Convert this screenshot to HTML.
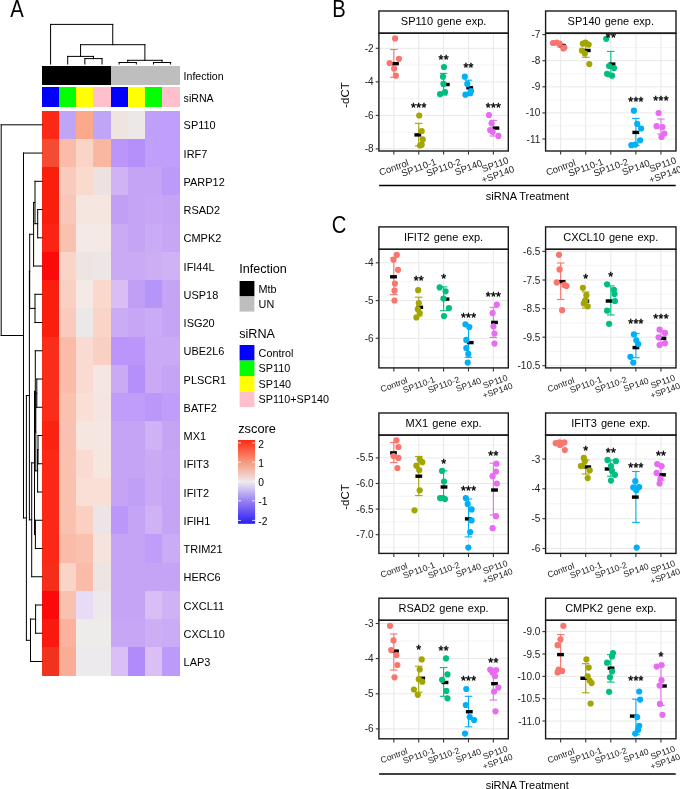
<!DOCTYPE html><html><head><meta charset="utf-8"><style>html,body{margin:0;padding:0;background:#fff;overflow:hidden;width:680px;height:789px;}svg{display:block;will-change:transform;}text{font-family:"Liberation Sans", sans-serif;}</style></head><body>
<svg width="680" height="789" viewBox="0 0 680 789">
<rect x="0" y="0" width="680" height="789" fill="#fff"/>
<text transform="translate(10.2,16.6) scale(0.86,1)" font-size="23.5" fill="#000">A</text>
<text transform="translate(332.2,16.6) scale(0.86,1)" font-size="23.5" fill="#000">B</text>
<text transform="translate(331.7,233.0) scale(0.86,1)" font-size="23.5" fill="#000">C</text>
<g shape-rendering="crispEdges">
<rect x="42.00" y="110.70" width="17.45" height="28.54" fill="#fa2814"/>
<rect x="59.15" y="110.70" width="17.45" height="28.54" fill="#c0a4f5"/>
<rect x="76.30" y="110.70" width="17.45" height="28.54" fill="#fca88b"/>
<rect x="93.45" y="110.70" width="17.45" height="28.54" fill="#c0a4f5"/>
<rect x="110.60" y="110.70" width="17.45" height="28.54" fill="#f0e4e1"/>
<rect x="127.75" y="110.70" width="17.45" height="28.54" fill="#ece8e8"/>
<rect x="144.90" y="110.70" width="17.45" height="28.54" fill="#c09ffa"/>
<rect x="162.05" y="110.70" width="17.45" height="28.54" fill="#c09ffa"/>
<rect x="42.00" y="138.94" width="17.45" height="28.54" fill="#f54b32"/>
<rect x="59.15" y="138.94" width="17.45" height="28.54" fill="#fabca9"/>
<rect x="76.30" y="138.94" width="17.45" height="28.54" fill="#fad5c7"/>
<rect x="93.45" y="138.94" width="17.45" height="28.54" fill="#fab79f"/>
<rect x="110.60" y="138.94" width="17.45" height="28.54" fill="#bb95fa"/>
<rect x="127.75" y="138.94" width="17.45" height="28.54" fill="#b690fa"/>
<rect x="144.90" y="138.94" width="17.45" height="28.54" fill="#c09ffa"/>
<rect x="162.05" y="138.94" width="17.45" height="28.54" fill="#c09ffa"/>
<rect x="42.00" y="167.19" width="17.45" height="28.54" fill="#fa1e0f"/>
<rect x="59.15" y="167.19" width="17.45" height="28.54" fill="#facbbd"/>
<rect x="76.30" y="167.19" width="17.45" height="28.54" fill="#fadacc"/>
<rect x="93.45" y="167.19" width="17.45" height="28.54" fill="#eee1e1"/>
<rect x="110.60" y="167.19" width="17.45" height="28.54" fill="#cfb3f5"/>
<rect x="127.75" y="167.19" width="17.45" height="28.54" fill="#c5a4f5"/>
<rect x="144.90" y="167.19" width="17.45" height="28.54" fill="#c5a4f5"/>
<rect x="162.05" y="167.19" width="17.45" height="28.54" fill="#bb9afa"/>
<rect x="42.00" y="195.44" width="17.45" height="28.54" fill="#fa1e0f"/>
<rect x="59.15" y="195.44" width="17.45" height="28.54" fill="#fac6b8"/>
<rect x="76.30" y="195.44" width="17.45" height="28.54" fill="#f5e6e0"/>
<rect x="93.45" y="195.44" width="17.45" height="28.54" fill="#f5e6e0"/>
<rect x="110.60" y="195.44" width="17.45" height="28.54" fill="#c09ff5"/>
<rect x="127.75" y="195.44" width="17.45" height="28.54" fill="#c5a4f5"/>
<rect x="144.90" y="195.44" width="17.45" height="28.54" fill="#c7a7f5"/>
<rect x="162.05" y="195.44" width="17.45" height="28.54" fill="#c5a4f5"/>
<rect x="42.00" y="223.68" width="17.45" height="28.54" fill="#fa2314"/>
<rect x="59.15" y="223.68" width="17.45" height="28.54" fill="#fac1ae"/>
<rect x="76.30" y="223.68" width="17.45" height="28.54" fill="#f3e9e7"/>
<rect x="93.45" y="223.68" width="17.45" height="28.54" fill="#f5e9e5"/>
<rect x="110.60" y="223.68" width="17.45" height="28.54" fill="#caa9f5"/>
<rect x="127.75" y="223.68" width="17.45" height="28.54" fill="#c5a4f5"/>
<rect x="144.90" y="223.68" width="17.45" height="28.54" fill="#caabf5"/>
<rect x="162.05" y="223.68" width="17.45" height="28.54" fill="#c7a7f5"/>
<rect x="42.00" y="251.93" width="17.45" height="28.54" fill="#fa0a0a"/>
<rect x="59.15" y="251.93" width="17.45" height="28.54" fill="#fad5c7"/>
<rect x="76.30" y="251.93" width="17.45" height="28.54" fill="#eee4e1"/>
<rect x="93.45" y="251.93" width="17.45" height="28.54" fill="#ece6e6"/>
<rect x="110.60" y="251.93" width="17.45" height="28.54" fill="#caa9f5"/>
<rect x="127.75" y="251.93" width="17.45" height="28.54" fill="#caa9f5"/>
<rect x="144.90" y="251.93" width="17.45" height="28.54" fill="#cdaef5"/>
<rect x="162.05" y="251.93" width="17.45" height="28.54" fill="#cfb1f5"/>
<rect x="42.00" y="280.17" width="17.45" height="28.54" fill="#fa1e0f"/>
<rect x="59.15" y="280.17" width="17.45" height="28.54" fill="#fad0c2"/>
<rect x="76.30" y="280.17" width="17.45" height="28.54" fill="#f5e9e5"/>
<rect x="93.45" y="280.17" width="17.45" height="28.54" fill="#fad8cc"/>
<rect x="110.60" y="280.17" width="17.45" height="28.54" fill="#d9bdf5"/>
<rect x="127.75" y="280.17" width="17.45" height="28.54" fill="#c09ff5"/>
<rect x="144.90" y="280.17" width="17.45" height="28.54" fill="#b695fa"/>
<rect x="162.05" y="280.17" width="17.45" height="28.54" fill="#c5a4f5"/>
<rect x="42.00" y="308.41" width="17.45" height="28.54" fill="#fa1e0f"/>
<rect x="59.15" y="308.41" width="17.45" height="28.54" fill="#facbbd"/>
<rect x="76.30" y="308.41" width="17.45" height="28.54" fill="#ebe8e8"/>
<rect x="93.45" y="308.41" width="17.45" height="28.54" fill="#fad5c7"/>
<rect x="110.60" y="308.41" width="17.45" height="28.54" fill="#caabf5"/>
<rect x="127.75" y="308.41" width="17.45" height="28.54" fill="#c7a7f5"/>
<rect x="144.90" y="308.41" width="17.45" height="28.54" fill="#caabf5"/>
<rect x="162.05" y="308.41" width="17.45" height="28.54" fill="#c5a4f5"/>
<rect x="42.00" y="336.66" width="17.45" height="28.54" fill="#fa2d19"/>
<rect x="59.15" y="336.66" width="17.45" height="28.54" fill="#fabca9"/>
<rect x="76.30" y="336.66" width="17.45" height="28.54" fill="#fadad1"/>
<rect x="93.45" y="336.66" width="17.45" height="28.54" fill="#fad0c2"/>
<rect x="110.60" y="336.66" width="17.45" height="28.54" fill="#bb95fa"/>
<rect x="127.75" y="336.66" width="17.45" height="28.54" fill="#bb95fa"/>
<rect x="144.90" y="336.66" width="17.45" height="28.54" fill="#caa9f5"/>
<rect x="162.05" y="336.66" width="17.45" height="28.54" fill="#caa9f5"/>
<rect x="42.00" y="364.90" width="17.45" height="28.54" fill="#fa2d19"/>
<rect x="59.15" y="364.90" width="17.45" height="28.54" fill="#fabca9"/>
<rect x="76.30" y="364.90" width="17.45" height="28.54" fill="#fadad1"/>
<rect x="93.45" y="364.90" width="17.45" height="28.54" fill="#f5e6e3"/>
<rect x="110.60" y="364.90" width="17.45" height="28.54" fill="#caa9f5"/>
<rect x="127.75" y="364.90" width="17.45" height="28.54" fill="#b690fa"/>
<rect x="144.90" y="364.90" width="17.45" height="28.54" fill="#caa9f5"/>
<rect x="162.05" y="364.90" width="17.45" height="28.54" fill="#c5a4f5"/>
<rect x="42.00" y="393.15" width="17.45" height="28.54" fill="#fa2d19"/>
<rect x="59.15" y="393.15" width="17.45" height="28.54" fill="#fac1ae"/>
<rect x="76.30" y="393.15" width="17.45" height="28.54" fill="#fadfd6"/>
<rect x="93.45" y="393.15" width="17.45" height="28.54" fill="#f5e4e0"/>
<rect x="110.60" y="393.15" width="17.45" height="28.54" fill="#c09df8"/>
<rect x="127.75" y="393.15" width="17.45" height="28.54" fill="#c09df8"/>
<rect x="144.90" y="393.15" width="17.45" height="28.54" fill="#bb97fa"/>
<rect x="162.05" y="393.15" width="17.45" height="28.54" fill="#c09df8"/>
<rect x="42.00" y="421.39" width="17.45" height="28.54" fill="#fa230f"/>
<rect x="59.15" y="421.39" width="17.45" height="28.54" fill="#fac1b3"/>
<rect x="76.30" y="421.39" width="17.45" height="28.54" fill="#f5e6e0"/>
<rect x="93.45" y="421.39" width="17.45" height="28.54" fill="#f5e6e3"/>
<rect x="110.60" y="421.39" width="17.45" height="28.54" fill="#c5a4f5"/>
<rect x="127.75" y="421.39" width="17.45" height="28.54" fill="#c5a4f5"/>
<rect x="144.90" y="421.39" width="17.45" height="28.54" fill="#cfb1f5"/>
<rect x="162.05" y="421.39" width="17.45" height="28.54" fill="#c5a4f5"/>
<rect x="42.00" y="449.64" width="17.45" height="28.54" fill="#fa2814"/>
<rect x="59.15" y="449.64" width="17.45" height="28.54" fill="#fac1ae"/>
<rect x="76.30" y="449.64" width="17.45" height="28.54" fill="#fadad1"/>
<rect x="93.45" y="449.64" width="17.45" height="28.54" fill="#f5e6e0"/>
<rect x="110.60" y="449.64" width="17.45" height="28.54" fill="#c5a4f5"/>
<rect x="127.75" y="449.64" width="17.45" height="28.54" fill="#c5a4f5"/>
<rect x="144.90" y="449.64" width="17.45" height="28.54" fill="#caa9f5"/>
<rect x="162.05" y="449.64" width="17.45" height="28.54" fill="#c7a7f5"/>
<rect x="42.00" y="477.88" width="17.45" height="28.54" fill="#fa2814"/>
<rect x="59.15" y="477.88" width="17.45" height="28.54" fill="#fac1ae"/>
<rect x="76.30" y="477.88" width="17.45" height="28.54" fill="#fadfd6"/>
<rect x="93.45" y="477.88" width="17.45" height="28.54" fill="#fadfd6"/>
<rect x="110.60" y="477.88" width="17.45" height="28.54" fill="#c5a4f5"/>
<rect x="127.75" y="477.88" width="17.45" height="28.54" fill="#c09ff7"/>
<rect x="144.90" y="477.88" width="17.45" height="28.54" fill="#caa9f5"/>
<rect x="162.05" y="477.88" width="17.45" height="28.54" fill="#c5a4f5"/>
<rect x="42.00" y="506.13" width="17.45" height="28.54" fill="#fa2814"/>
<rect x="59.15" y="506.13" width="17.45" height="28.54" fill="#fac1ae"/>
<rect x="76.30" y="506.13" width="17.45" height="28.54" fill="#fad0c2"/>
<rect x="93.45" y="506.13" width="17.45" height="28.54" fill="#ece4e6"/>
<rect x="110.60" y="506.13" width="17.45" height="28.54" fill="#bb97fa"/>
<rect x="127.75" y="506.13" width="17.45" height="28.54" fill="#c5a4f5"/>
<rect x="144.90" y="506.13" width="17.45" height="28.54" fill="#cfb1f5"/>
<rect x="162.05" y="506.13" width="17.45" height="28.54" fill="#c5a4f5"/>
<rect x="42.00" y="534.38" width="17.45" height="28.54" fill="#fa2814"/>
<rect x="59.15" y="534.38" width="17.45" height="28.54" fill="#fabca9"/>
<rect x="76.30" y="534.38" width="17.45" height="28.54" fill="#fac1ae"/>
<rect x="93.45" y="534.38" width="17.45" height="28.54" fill="#f5e4dd"/>
<rect x="110.60" y="534.38" width="17.45" height="28.54" fill="#c5a4f5"/>
<rect x="127.75" y="534.38" width="17.45" height="28.54" fill="#c5a4f5"/>
<rect x="144.90" y="534.38" width="17.45" height="28.54" fill="#c09df8"/>
<rect x="162.05" y="534.38" width="17.45" height="28.54" fill="#caabf5"/>
<rect x="42.00" y="562.62" width="17.45" height="28.54" fill="#f52d19"/>
<rect x="59.15" y="562.62" width="17.45" height="28.54" fill="#fad5c7"/>
<rect x="76.30" y="562.62" width="17.45" height="28.54" fill="#fabca9"/>
<rect x="93.45" y="562.62" width="17.45" height="28.54" fill="#eee4e4"/>
<rect x="110.60" y="562.62" width="17.45" height="28.54" fill="#c5a4f5"/>
<rect x="127.75" y="562.62" width="17.45" height="28.54" fill="#c5a4f5"/>
<rect x="144.90" y="562.62" width="17.45" height="28.54" fill="#c5a4f5"/>
<rect x="162.05" y="562.62" width="17.45" height="28.54" fill="#c5a4f5"/>
<rect x="42.00" y="590.87" width="17.45" height="28.54" fill="#fa0a0a"/>
<rect x="59.15" y="590.87" width="17.45" height="28.54" fill="#fac1ae"/>
<rect x="76.30" y="590.87" width="17.45" height="28.54" fill="#e8dbf5"/>
<rect x="93.45" y="590.87" width="17.45" height="28.54" fill="#ece8eb"/>
<rect x="110.60" y="590.87" width="17.45" height="28.54" fill="#c5a4f5"/>
<rect x="127.75" y="590.87" width="17.45" height="28.54" fill="#c5a4f5"/>
<rect x="144.90" y="590.87" width="17.45" height="28.54" fill="#d9bdf5"/>
<rect x="162.05" y="590.87" width="17.45" height="28.54" fill="#cfb1f5"/>
<rect x="42.00" y="619.11" width="17.45" height="28.54" fill="#fa190f"/>
<rect x="59.15" y="619.11" width="17.45" height="28.54" fill="#fab29f"/>
<rect x="76.30" y="619.11" width="17.45" height="28.54" fill="#eeebeb"/>
<rect x="93.45" y="619.11" width="17.45" height="28.54" fill="#eeebeb"/>
<rect x="110.60" y="619.11" width="17.45" height="28.54" fill="#c7a7f5"/>
<rect x="127.75" y="619.11" width="17.45" height="28.54" fill="#c7a7f5"/>
<rect x="144.90" y="619.11" width="17.45" height="28.54" fill="#cdaef5"/>
<rect x="162.05" y="619.11" width="17.45" height="28.54" fill="#caabf5"/>
<rect x="42.00" y="647.36" width="17.45" height="28.54" fill="#f0321e"/>
<rect x="59.15" y="647.36" width="17.45" height="28.54" fill="#faad95"/>
<rect x="76.30" y="647.36" width="17.45" height="28.54" fill="#eceaec"/>
<rect x="93.45" y="647.36" width="17.45" height="28.54" fill="#eceaec"/>
<rect x="110.60" y="647.36" width="17.45" height="28.54" fill="#d9bff5"/>
<rect x="127.75" y="647.36" width="17.45" height="28.54" fill="#b18bfa"/>
<rect x="144.90" y="647.36" width="17.45" height="28.54" fill="#d9bff5"/>
<rect x="162.05" y="647.36" width="17.45" height="28.54" fill="#bb9afa"/>
<rect x="42.00" y="65.9" width="17.45" height="19.5" fill="#000"/>
<rect x="42.00" y="86.8" width="17.45" height="19.9" fill="#0000ff"/>
<rect x="59.15" y="65.9" width="17.45" height="19.5" fill="#000"/>
<rect x="59.15" y="86.8" width="17.45" height="19.9" fill="#00ff00"/>
<rect x="76.30" y="65.9" width="17.45" height="19.5" fill="#000"/>
<rect x="76.30" y="86.8" width="17.45" height="19.9" fill="#ffff00"/>
<rect x="93.45" y="65.9" width="17.45" height="19.5" fill="#000"/>
<rect x="93.45" y="86.8" width="17.45" height="19.9" fill="#ffc0cb"/>
<rect x="110.60" y="65.9" width="17.45" height="19.5" fill="#bebebe"/>
<rect x="110.60" y="86.8" width="17.45" height="19.9" fill="#0000ff"/>
<rect x="127.75" y="65.9" width="17.45" height="19.5" fill="#bebebe"/>
<rect x="127.75" y="86.8" width="17.45" height="19.9" fill="#ffff00"/>
<rect x="144.90" y="65.9" width="17.45" height="19.5" fill="#bebebe"/>
<rect x="144.90" y="86.8" width="17.45" height="19.9" fill="#00ff00"/>
<rect x="162.05" y="65.9" width="17.45" height="19.5" fill="#bebebe"/>
<rect x="162.05" y="86.8" width="17.45" height="19.9" fill="#ffc0cb"/>
</g>
<g font-size="10.95" fill="#000">
<text x="183.6" y="80.1" font-size="10.6">Infection</text>
<text x="183.6" y="101.5" font-size="10.6">siRNA</text>
<text x="183.6" y="129.3">SP110</text>
<text x="183.6" y="157.6">IRF7</text>
<text x="183.6" y="185.8">PARP12</text>
<text x="183.6" y="214.1">RSAD2</text>
<text x="183.6" y="242.3">CMPK2</text>
<text x="183.6" y="270.5">IFI44L</text>
<text x="183.6" y="298.8">USP18</text>
<text x="183.6" y="327.0">ISG20</text>
<text x="183.6" y="355.3">UBE2L6</text>
<text x="183.6" y="383.5">PLSCR1</text>
<text x="183.6" y="411.8">BATF2</text>
<text x="183.6" y="440.0">MX1</text>
<text x="183.6" y="468.3">IFIT3</text>
<text x="183.6" y="496.5">IFIT2</text>
<text x="183.6" y="524.8">IFIH1</text>
<text x="183.6" y="553.0">TRIM21</text>
<text x="183.6" y="581.2">HERC6</text>
<text x="183.6" y="609.5">CXCL11</text>
<text x="183.6" y="637.7">CXCL10</text>
<text x="183.6" y="666.0">LAP3</text>
</g>
<g stroke="#000" stroke-width="1" fill="none" stroke-linecap="square">
<line x1="84.88" y1="58.60" x2="102.02" y2="58.60"/>
<line x1="84.88" y1="58.60" x2="84.88" y2="64.00"/>
<line x1="102.02" y1="58.60" x2="102.02" y2="64.00"/>
<line x1="67.72" y1="56.40" x2="93.45" y2="56.40"/>
<line x1="67.72" y1="56.40" x2="67.72" y2="64.00"/>
<line x1="93.45" y1="56.40" x2="93.45" y2="58.60"/>
<line x1="119.17" y1="62.50" x2="136.32" y2="62.50"/>
<line x1="119.17" y1="62.50" x2="119.17" y2="64.00"/>
<line x1="136.32" y1="62.50" x2="136.32" y2="64.00"/>
<line x1="153.47" y1="62.50" x2="170.62" y2="62.50"/>
<line x1="153.47" y1="62.50" x2="153.47" y2="64.00"/>
<line x1="170.62" y1="62.50" x2="170.62" y2="64.00"/>
<line x1="127.75" y1="60.30" x2="162.05" y2="60.30"/>
<line x1="127.75" y1="60.30" x2="127.75" y2="62.50"/>
<line x1="162.05" y1="60.30" x2="162.05" y2="62.50"/>
<line x1="80.59" y1="44.70" x2="144.90" y2="44.70"/>
<line x1="80.59" y1="44.70" x2="80.59" y2="56.40"/>
<line x1="144.90" y1="44.70" x2="144.90" y2="60.30"/>
<line x1="50.58" y1="24.40" x2="112.74" y2="24.40"/>
<line x1="50.58" y1="24.40" x2="50.58" y2="64.00"/>
<line x1="112.74" y1="24.40" x2="112.74" y2="44.70"/>
<line x1="37.70" y1="209.56" x2="37.70" y2="237.80"/>
<line x1="37.70" y1="209.56" x2="42.00" y2="209.56"/>
<line x1="37.70" y1="237.80" x2="42.00" y2="237.80"/>
<line x1="35.00" y1="181.31" x2="35.00" y2="223.68"/>
<line x1="35.00" y1="181.31" x2="42.00" y2="181.31"/>
<line x1="35.00" y1="223.68" x2="37.70" y2="223.68"/>
<line x1="33.60" y1="202.50" x2="33.60" y2="266.05"/>
<line x1="33.60" y1="202.50" x2="35.00" y2="202.50"/>
<line x1="33.60" y1="266.05" x2="42.00" y2="266.05"/>
<line x1="35.00" y1="294.29" x2="35.00" y2="322.54"/>
<line x1="35.00" y1="294.29" x2="42.00" y2="294.29"/>
<line x1="35.00" y1="322.54" x2="42.00" y2="322.54"/>
<line x1="29.70" y1="234.27" x2="29.70" y2="308.41"/>
<line x1="29.70" y1="234.27" x2="33.60" y2="234.27"/>
<line x1="29.70" y1="308.41" x2="35.00" y2="308.41"/>
<line x1="36.80" y1="379.03" x2="36.80" y2="407.27"/>
<line x1="36.80" y1="379.03" x2="42.00" y2="379.03"/>
<line x1="36.80" y1="407.27" x2="42.00" y2="407.27"/>
<line x1="38.00" y1="435.52" x2="38.00" y2="463.76"/>
<line x1="38.00" y1="435.52" x2="42.00" y2="435.52"/>
<line x1="38.00" y1="463.76" x2="42.00" y2="463.76"/>
<line x1="37.60" y1="449.64" x2="37.60" y2="492.01"/>
<line x1="37.60" y1="449.64" x2="38.00" y2="449.64"/>
<line x1="37.60" y1="492.01" x2="42.00" y2="492.01"/>
<line x1="35.80" y1="393.15" x2="35.80" y2="470.82"/>
<line x1="35.80" y1="393.15" x2="36.80" y2="393.15"/>
<line x1="35.80" y1="470.82" x2="37.60" y2="470.82"/>
<line x1="35.30" y1="350.78" x2="35.30" y2="431.99"/>
<line x1="35.30" y1="350.78" x2="42.00" y2="350.78"/>
<line x1="35.30" y1="431.99" x2="35.80" y2="431.99"/>
<line x1="35.40" y1="520.25" x2="35.40" y2="548.50"/>
<line x1="35.40" y1="520.25" x2="42.00" y2="520.25"/>
<line x1="35.40" y1="548.50" x2="42.00" y2="548.50"/>
<line x1="34.50" y1="391.38" x2="34.50" y2="534.38"/>
<line x1="34.50" y1="391.38" x2="35.30" y2="391.38"/>
<line x1="34.50" y1="534.38" x2="35.40" y2="534.38"/>
<line x1="31.70" y1="462.88" x2="31.70" y2="576.74"/>
<line x1="31.70" y1="462.88" x2="34.50" y2="462.88"/>
<line x1="31.70" y1="576.74" x2="42.00" y2="576.74"/>
<line x1="29.40" y1="271.34" x2="29.40" y2="519.81"/>
<line x1="29.40" y1="271.34" x2="29.70" y2="271.34"/>
<line x1="29.40" y1="519.81" x2="31.70" y2="519.81"/>
<line x1="35.60" y1="604.99" x2="35.60" y2="633.23"/>
<line x1="35.60" y1="604.99" x2="42.00" y2="604.99"/>
<line x1="35.60" y1="633.23" x2="42.00" y2="633.23"/>
<line x1="30.50" y1="619.11" x2="30.50" y2="661.48"/>
<line x1="30.50" y1="619.11" x2="35.60" y2="619.11"/>
<line x1="30.50" y1="661.48" x2="42.00" y2="661.48"/>
<line x1="26.40" y1="395.58" x2="26.40" y2="640.29"/>
<line x1="26.40" y1="395.58" x2="29.40" y2="395.58"/>
<line x1="26.40" y1="640.29" x2="30.50" y2="640.29"/>
<line x1="23.50" y1="153.07" x2="23.50" y2="517.94"/>
<line x1="23.50" y1="153.07" x2="42.00" y2="153.07"/>
<line x1="23.50" y1="517.94" x2="26.40" y2="517.94"/>
<line x1="1.20" y1="124.82" x2="1.20" y2="335.50"/>
<line x1="1.20" y1="124.82" x2="42.00" y2="124.82"/>
<line x1="1.20" y1="335.50" x2="23.50" y2="335.50"/>
</g>
<g fill="#000">
<text x="239.2" y="273.4" font-size="12.6">Infection</text>
<rect x="239.6" y="281" width="14.8" height="15.4" fill="#000"/>
<rect x="239.6" y="296.4" width="14.8" height="15.2" fill="#bebebe"/>
<text x="258.6" y="292.9" font-size="10.8">Mtb</text>
<text x="258.6" y="308.3" font-size="10.8">UN</text>
<text x="239.2" y="338.0" font-size="12.6">siRNA</text>
<rect x="239.6" y="345.0" width="14.8" height="15.6" fill="#0000ff"/>
<text x="258.6" y="356.8" font-size="10.8">Control</text>
<rect x="239.6" y="360.5" width="14.8" height="15.6" fill="#00ff00"/>
<text x="258.6" y="372.3" font-size="10.8">SP110</text>
<rect x="239.6" y="376.0" width="14.8" height="15.6" fill="#ffff00"/>
<text x="258.6" y="387.8" font-size="10.8">SP140</text>
<rect x="239.6" y="391.5" width="14.8" height="15.6" fill="#ffc0cb"/>
<text x="258.6" y="403.3" font-size="10.8">SP110+SP140</text>
<text x="238.2" y="433.2" font-size="12.8">zscore</text>
<defs><linearGradient id="zg" x1="0" y1="0" x2="0" y2="1"><stop offset="0" stop-color="#ff2a14"/><stop offset="0.25" stop-color="#f69478"/><stop offset="0.5" stop-color="#eeeaee"/><stop offset="0.75" stop-color="#9078f4"/><stop offset="1" stop-color="#2a1ef0"/></linearGradient></defs>
<rect x="238" y="440" width="17.1" height="83.8" fill="url(#zg)"/>
<line x1="238" y1="442.9" x2="241" y2="442.9" stroke="#fff" stroke-width="0.8"/>
<line x1="252.1" y1="442.9" x2="255.1" y2="442.9" stroke="#fff" stroke-width="0.8"/>
<text x="258.3" y="447.5" font-size="10.3">2</text>
<line x1="238" y1="462.2" x2="241" y2="462.2" stroke="#fff" stroke-width="0.8"/>
<line x1="252.1" y1="462.2" x2="255.1" y2="462.2" stroke="#fff" stroke-width="0.8"/>
<text x="258.3" y="466.8" font-size="10.3">1</text>
<line x1="238" y1="481.6" x2="241" y2="481.6" stroke="#fff" stroke-width="0.8"/>
<line x1="252.1" y1="481.6" x2="255.1" y2="481.6" stroke="#fff" stroke-width="0.8"/>
<text x="258.3" y="486.2" font-size="10.3">0</text>
<line x1="238" y1="500.8" x2="241" y2="500.8" stroke="#fff" stroke-width="0.8"/>
<line x1="252.1" y1="500.8" x2="255.1" y2="500.8" stroke="#fff" stroke-width="0.8"/>
<text x="258.3" y="505.4" font-size="10.3">-1</text>
<line x1="238" y1="520.4" x2="241" y2="520.4" stroke="#fff" stroke-width="0.8"/>
<line x1="252.1" y1="520.4" x2="255.1" y2="520.4" stroke="#fff" stroke-width="0.8"/>
<text x="258.3" y="525.0" font-size="10.3">-2</text>
</g>
<g>
<rect x="378.9" y="33.2" width="129.40000000000003" height="117.8" fill="#fff"/>
<line x1="378.9" y1="65.10" x2="508.3" y2="65.10" stroke="#efefef" stroke-width="0.7"/>
<line x1="378.9" y1="98.65" x2="508.3" y2="98.65" stroke="#efefef" stroke-width="0.7"/>
<line x1="378.9" y1="132.15" x2="508.3" y2="132.15" stroke="#efefef" stroke-width="0.7"/>
<line x1="378.9" y1="48.30" x2="508.3" y2="48.30" stroke="#e8e8e8" stroke-width="1.0"/>
<line x1="378.9" y1="81.90" x2="508.3" y2="81.90" stroke="#e8e8e8" stroke-width="1.0"/>
<line x1="378.9" y1="115.40" x2="508.3" y2="115.40" stroke="#e8e8e8" stroke-width="1.0"/>
<line x1="378.9" y1="148.90" x2="508.3" y2="148.90" stroke="#e8e8e8" stroke-width="1.0"/>
<line x1="393.83" y1="33.2" x2="393.83" y2="151.0" stroke="#e8e8e8" stroke-width="1.0"/>
<line x1="418.72" y1="33.2" x2="418.72" y2="151.0" stroke="#e8e8e8" stroke-width="1.0"/>
<line x1="443.60" y1="33.2" x2="443.60" y2="151.0" stroke="#e8e8e8" stroke-width="1.0"/>
<line x1="468.48" y1="33.2" x2="468.48" y2="151.0" stroke="#e8e8e8" stroke-width="1.0"/>
<line x1="493.37" y1="33.2" x2="493.37" y2="151.0" stroke="#e8e8e8" stroke-width="1.0"/>
<line x1="393.83" y1="49.5" x2="393.83" y2="77.3" stroke="#F8766D" stroke-width="1.1"/>
<line x1="390.03" y1="49.5" x2="397.63" y2="49.5" stroke="#F8766D" stroke-width="1.1"/>
<line x1="390.03" y1="77.3" x2="397.63" y2="77.3" stroke="#F8766D" stroke-width="1.1"/>
<rect x="392.10" y="62.00" width="6.8" height="3.4" fill="#000"/>
<circle cx="395.1" cy="38.4" r="3.1" fill="#F8766D"/>
<circle cx="399" cy="58.8" r="3.1" fill="#F8766D"/>
<circle cx="389.6" cy="63.1" r="3.1" fill="#F8766D"/>
<circle cx="394.1" cy="68.5" r="3.1" fill="#F8766D"/>
<circle cx="395.9" cy="75.7" r="3.1" fill="#F8766D"/>
<line x1="418.72" y1="123.3" x2="418.72" y2="146" stroke="#A3A500" stroke-width="1.1"/>
<line x1="414.92" y1="123.3" x2="422.52" y2="123.3" stroke="#A3A500" stroke-width="1.1"/>
<line x1="414.92" y1="146" x2="422.52" y2="146" stroke="#A3A500" stroke-width="1.1"/>
<rect x="414.40" y="133.20" width="6.8" height="3.4" fill="#000"/>
<circle cx="419.2" cy="115.5" r="3.1" fill="#A3A500"/>
<circle cx="421.7" cy="131" r="3.1" fill="#A3A500"/>
<circle cx="422.7" cy="139.4" r="3.1" fill="#A3A500"/>
<circle cx="421.7" cy="144.7" r="3.1" fill="#A3A500"/>
<circle cx="420" cy="145.5" r="3.1" fill="#A3A500"/>
<line x1="443.60" y1="73.4" x2="443.60" y2="95" stroke="#00BF7D" stroke-width="1.1"/>
<line x1="439.80" y1="73.4" x2="447.40" y2="73.4" stroke="#00BF7D" stroke-width="1.1"/>
<line x1="439.80" y1="95" x2="447.40" y2="95" stroke="#00BF7D" stroke-width="1.1"/>
<rect x="442.90" y="82.80" width="6.8" height="3.4" fill="#000"/>
<circle cx="444" cy="67" r="3.1" fill="#00BF7D"/>
<circle cx="443" cy="76.7" r="3.1" fill="#00BF7D"/>
<circle cx="443.4" cy="83.9" r="3.1" fill="#00BF7D"/>
<circle cx="440.1" cy="94.2" r="3.1" fill="#00BF7D"/>
<circle cx="445" cy="92.2" r="3.1" fill="#00BF7D"/>
<line x1="468.48" y1="80.2" x2="468.48" y2="95" stroke="#00B0F6" stroke-width="1.1"/>
<line x1="464.68" y1="80.2" x2="472.28" y2="80.2" stroke="#00B0F6" stroke-width="1.1"/>
<line x1="464.68" y1="95" x2="472.28" y2="95" stroke="#00B0F6" stroke-width="1.1"/>
<rect x="466.30" y="86.10" width="6.8" height="3.4" fill="#000"/>
<circle cx="464.8" cy="76.7" r="3.1" fill="#00B0F6"/>
<circle cx="467.3" cy="83.9" r="3.1" fill="#00B0F6"/>
<circle cx="470.2" cy="93.2" r="3.1" fill="#00B0F6"/>
<circle cx="465.4" cy="94.7" r="3.1" fill="#00B0F6"/>
<circle cx="471" cy="91" r="3.1" fill="#00B0F6"/>
<line x1="493.37" y1="120.4" x2="493.37" y2="136" stroke="#E76BF3" stroke-width="1.1"/>
<line x1="489.57" y1="120.4" x2="497.17" y2="120.4" stroke="#E76BF3" stroke-width="1.1"/>
<line x1="489.57" y1="136" x2="497.17" y2="136" stroke="#E76BF3" stroke-width="1.1"/>
<rect x="492.50" y="126.40" width="6.8" height="3.4" fill="#000"/>
<circle cx="489" cy="115" r="3.1" fill="#E76BF3"/>
<circle cx="491.6" cy="123.3" r="3.1" fill="#E76BF3"/>
<circle cx="490.2" cy="130" r="3.1" fill="#E76BF3"/>
<circle cx="498.4" cy="135.9" r="3.1" fill="#E76BF3"/>
<circle cx="492.6" cy="131.8" r="3.1" fill="#E76BF3"/>
<text x="418.87" y="112.3" font-size="12.5" letter-spacing="0.3" text-anchor="middle" fill="#000" stroke="#000" stroke-width="0.4">***</text>
<text x="443.75" y="64.1" font-size="12.5" letter-spacing="0.3" text-anchor="middle" fill="#000" stroke="#000" stroke-width="0.4">**</text>
<text x="468.63" y="71.5" font-size="12.5" letter-spacing="0.3" text-anchor="middle" fill="#000" stroke="#000" stroke-width="0.4">**</text>
<text x="493.52" y="111.7" font-size="12.5" letter-spacing="0.3" text-anchor="middle" fill="#000" stroke="#000" stroke-width="0.4">***</text>
<rect x="378.9" y="11.0" width="129.40000000000003" height="22.200000000000003" fill="#fff" stroke="#1a1a1a" stroke-width="1.4"/>
<text x="443.60" y="25.1" font-size="11" text-anchor="middle" fill="#000" word-spacing="1">SP110 gene exp.</text>
<rect x="378.9" y="33.2" width="129.40000000000003" height="117.8" fill="none" stroke="#1a1a1a" stroke-width="1.4"/>
<line x1="375.70" y1="48.30" x2="378.9" y2="48.30" stroke="#333" stroke-width="1.1"/>
<text x="373.60" y="51.80" font-size="10" text-anchor="end" fill="#222">-2</text>
<line x1="375.70" y1="81.90" x2="378.9" y2="81.90" stroke="#333" stroke-width="1.1"/>
<text x="373.60" y="85.40" font-size="10" text-anchor="end" fill="#222">-4</text>
<line x1="375.70" y1="115.40" x2="378.9" y2="115.40" stroke="#333" stroke-width="1.1"/>
<text x="373.60" y="118.90" font-size="10" text-anchor="end" fill="#222">-6</text>
<line x1="375.70" y1="148.90" x2="378.9" y2="148.90" stroke="#333" stroke-width="1.1"/>
<text x="373.60" y="152.40" font-size="10" text-anchor="end" fill="#222">-8</text>
<line x1="393.83" y1="151.0" x2="393.83" y2="154.60" stroke="#333" stroke-width="1.1"/>
<text transform="translate(393.83,167.50) rotate(-20)" font-size="9.5" text-anchor="middle" fill="#222" y="3.3">Control</text>
<line x1="418.72" y1="151.0" x2="418.72" y2="154.60" stroke="#333" stroke-width="1.1"/>
<text transform="translate(418.72,167.50) rotate(-20)" font-size="9.5" text-anchor="middle" fill="#222" y="3.3">SP110-1</text>
<line x1="443.60" y1="151.0" x2="443.60" y2="154.60" stroke="#333" stroke-width="1.1"/>
<text transform="translate(443.60,167.50) rotate(-20)" font-size="9.5" text-anchor="middle" fill="#222" y="3.3">SP110-2</text>
<line x1="468.48" y1="151.0" x2="468.48" y2="154.60" stroke="#333" stroke-width="1.1"/>
<text transform="translate(468.48,167.50) rotate(-20)" font-size="9.5" text-anchor="middle" fill="#222" y="3.3">SP140</text>
<line x1="493.37" y1="151.0" x2="493.37" y2="154.60" stroke="#333" stroke-width="1.1"/>
<text transform="translate(495.37,167.50) rotate(-20)" font-size="9.5" text-anchor="middle" fill="#222"><tspan x="0.8" y="0.40">SP110</tspan><tspan x="0" y="10.60">+SP140</tspan></text>
<text transform="translate(348.5,95) rotate(-90)" font-size="11.5" text-anchor="middle" fill="#000">-dCT</text>
</g>
<g>
<rect x="545.6" y="33.2" width="130.39999999999998" height="117.8" fill="#fff"/>
<line x1="545.6" y1="47.65" x2="676.0" y2="47.65" stroke="#efefef" stroke-width="0.7"/>
<line x1="545.6" y1="73.75" x2="676.0" y2="73.75" stroke="#efefef" stroke-width="0.7"/>
<line x1="545.6" y1="99.85" x2="676.0" y2="99.85" stroke="#efefef" stroke-width="0.7"/>
<line x1="545.6" y1="125.95" x2="676.0" y2="125.95" stroke="#efefef" stroke-width="0.7"/>
<line x1="545.6" y1="34.60" x2="676.0" y2="34.60" stroke="#e8e8e8" stroke-width="1.0"/>
<line x1="545.6" y1="60.70" x2="676.0" y2="60.70" stroke="#e8e8e8" stroke-width="1.0"/>
<line x1="545.6" y1="86.80" x2="676.0" y2="86.80" stroke="#e8e8e8" stroke-width="1.0"/>
<line x1="545.6" y1="112.90" x2="676.0" y2="112.90" stroke="#e8e8e8" stroke-width="1.0"/>
<line x1="545.6" y1="139.00" x2="676.0" y2="139.00" stroke="#e8e8e8" stroke-width="1.0"/>
<line x1="560.65" y1="33.2" x2="560.65" y2="151.0" stroke="#e8e8e8" stroke-width="1.0"/>
<line x1="585.72" y1="33.2" x2="585.72" y2="151.0" stroke="#e8e8e8" stroke-width="1.0"/>
<line x1="610.80" y1="33.2" x2="610.80" y2="151.0" stroke="#e8e8e8" stroke-width="1.0"/>
<line x1="635.88" y1="33.2" x2="635.88" y2="151.0" stroke="#e8e8e8" stroke-width="1.0"/>
<line x1="660.95" y1="33.2" x2="660.95" y2="151.0" stroke="#e8e8e8" stroke-width="1.0"/>
<line x1="560.65" y1="44" x2="560.65" y2="47" stroke="#F8766D" stroke-width="1.1"/>
<line x1="556.85" y1="44" x2="564.45" y2="44" stroke="#F8766D" stroke-width="1.1"/>
<line x1="556.85" y1="47" x2="564.45" y2="47" stroke="#F8766D" stroke-width="1.1"/>
<rect x="559.10" y="43.90" width="6.8" height="3.4" fill="#000"/>
<circle cx="553" cy="43" r="3.1" fill="#F8766D"/>
<circle cx="556.6" cy="42.7" r="3.1" fill="#F8766D"/>
<circle cx="559.6" cy="43.7" r="3.1" fill="#F8766D"/>
<circle cx="563.4" cy="48.5" r="3.1" fill="#F8766D"/>
<circle cx="564.4" cy="47.6" r="3.1" fill="#F8766D"/>
<line x1="585.72" y1="45" x2="585.72" y2="57.3" stroke="#A3A500" stroke-width="1.1"/>
<line x1="581.92" y1="45" x2="589.52" y2="45" stroke="#A3A500" stroke-width="1.1"/>
<line x1="581.92" y1="57.3" x2="589.52" y2="57.3" stroke="#A3A500" stroke-width="1.1"/>
<rect x="583.90" y="48.80" width="6.8" height="3.4" fill="#000"/>
<circle cx="582.9" cy="43.7" r="3.1" fill="#A3A500"/>
<circle cx="585.5" cy="42.5" r="3.1" fill="#A3A500"/>
<circle cx="588.7" cy="44.6" r="3.1" fill="#A3A500"/>
<circle cx="581.9" cy="50.5" r="3.1" fill="#A3A500"/>
<circle cx="584.8" cy="53.4" r="3.1" fill="#A3A500"/>
<circle cx="589.3" cy="64.1" r="3.1" fill="#A3A500"/>
<line x1="610.80" y1="51.4" x2="610.80" y2="76.7" stroke="#00BF7D" stroke-width="1.1"/>
<line x1="607.00" y1="51.4" x2="614.60" y2="51.4" stroke="#00BF7D" stroke-width="1.1"/>
<line x1="607.00" y1="76.7" x2="614.60" y2="76.7" stroke="#00BF7D" stroke-width="1.1"/>
<rect x="608.60" y="62.40" width="6.8" height="3.4" fill="#000"/>
<circle cx="606.2" cy="38.8" r="3.1" fill="#00BF7D"/>
<circle cx="609.1" cy="66" r="3.1" fill="#00BF7D"/>
<circle cx="614" cy="68" r="3.1" fill="#00BF7D"/>
<circle cx="607.1" cy="73.8" r="3.1" fill="#00BF7D"/>
<circle cx="612" cy="75.7" r="3.1" fill="#00BF7D"/>
<line x1="635.88" y1="118.4" x2="635.88" y2="145.6" stroke="#00B0F6" stroke-width="1.1"/>
<line x1="632.08" y1="118.4" x2="639.68" y2="118.4" stroke="#00B0F6" stroke-width="1.1"/>
<line x1="632.08" y1="145.6" x2="639.68" y2="145.6" stroke="#00B0F6" stroke-width="1.1"/>
<rect x="632.40" y="130.70" width="6.8" height="3.4" fill="#000"/>
<circle cx="633.9" cy="110.7" r="3.1" fill="#00B0F6"/>
<circle cx="637.2" cy="123.9" r="3.1" fill="#00B0F6"/>
<circle cx="641.1" cy="128.5" r="3.1" fill="#00B0F6"/>
<circle cx="640.1" cy="140.3" r="3.1" fill="#00B0F6"/>
<circle cx="631.4" cy="145.2" r="3.1" fill="#00B0F6"/>
<circle cx="635.3" cy="144.6" r="3.1" fill="#00B0F6"/>
<line x1="660.95" y1="119" x2="660.95" y2="134" stroke="#E76BF3" stroke-width="1.1"/>
<line x1="657.15" y1="119" x2="664.75" y2="119" stroke="#E76BF3" stroke-width="1.1"/>
<line x1="657.15" y1="134" x2="664.75" y2="134" stroke="#E76BF3" stroke-width="1.1"/>
<circle cx="658.6" cy="113" r="3.1" fill="#E76BF3"/>
<circle cx="656.6" cy="126.2" r="3.1" fill="#E76BF3"/>
<circle cx="662.4" cy="127.2" r="3.1" fill="#E76BF3"/>
<circle cx="664.4" cy="133.6" r="3.1" fill="#E76BF3"/>
<circle cx="661.5" cy="136.9" r="3.1" fill="#E76BF3"/>
<text x="610.95" y="41.8" font-size="12.5" letter-spacing="0.3" text-anchor="middle" fill="#000" stroke="#000" stroke-width="0.4">**</text>
<text x="636.03" y="105.9" font-size="12.5" letter-spacing="0.3" text-anchor="middle" fill="#000" stroke="#000" stroke-width="0.4">***</text>
<text x="661.10" y="105.3" font-size="12.5" letter-spacing="0.3" text-anchor="middle" fill="#000" stroke="#000" stroke-width="0.4">***</text>
<rect x="545.6" y="11.0" width="130.39999999999998" height="22.200000000000003" fill="#fff" stroke="#1a1a1a" stroke-width="1.4"/>
<text x="610.80" y="25.1" font-size="11" text-anchor="middle" fill="#000" word-spacing="1">SP140 gene exp.</text>
<rect x="545.6" y="33.2" width="130.39999999999998" height="117.8" fill="none" stroke="#1a1a1a" stroke-width="1.4"/>
<line x1="542.40" y1="34.60" x2="545.6" y2="34.60" stroke="#333" stroke-width="1.1"/>
<text x="540.30" y="38.10" font-size="10" text-anchor="end" fill="#222">-7</text>
<line x1="542.40" y1="60.70" x2="545.6" y2="60.70" stroke="#333" stroke-width="1.1"/>
<text x="540.30" y="64.20" font-size="10" text-anchor="end" fill="#222">-8</text>
<line x1="542.40" y1="86.80" x2="545.6" y2="86.80" stroke="#333" stroke-width="1.1"/>
<text x="540.30" y="90.30" font-size="10" text-anchor="end" fill="#222">-9</text>
<line x1="542.40" y1="112.90" x2="545.6" y2="112.90" stroke="#333" stroke-width="1.1"/>
<text x="540.30" y="116.40" font-size="10" text-anchor="end" fill="#222">-10</text>
<line x1="542.40" y1="139.00" x2="545.6" y2="139.00" stroke="#333" stroke-width="1.1"/>
<text x="540.30" y="142.50" font-size="10" text-anchor="end" fill="#222">-11</text>
<line x1="560.65" y1="151.0" x2="560.65" y2="154.60" stroke="#333" stroke-width="1.1"/>
<text transform="translate(560.65,167.50) rotate(-20)" font-size="9.5" text-anchor="middle" fill="#222" y="3.3">Control</text>
<line x1="585.72" y1="151.0" x2="585.72" y2="154.60" stroke="#333" stroke-width="1.1"/>
<text transform="translate(585.72,167.50) rotate(-20)" font-size="9.5" text-anchor="middle" fill="#222" y="3.3">SP110-1</text>
<line x1="610.80" y1="151.0" x2="610.80" y2="154.60" stroke="#333" stroke-width="1.1"/>
<text transform="translate(610.80,167.50) rotate(-20)" font-size="9.5" text-anchor="middle" fill="#222" y="3.3">SP110-2</text>
<line x1="635.88" y1="151.0" x2="635.88" y2="154.60" stroke="#333" stroke-width="1.1"/>
<text transform="translate(635.88,167.50) rotate(-20)" font-size="9.5" text-anchor="middle" fill="#222" y="3.3">SP140</text>
<line x1="660.95" y1="151.0" x2="660.95" y2="154.60" stroke="#333" stroke-width="1.1"/>
<text transform="translate(662.95,167.50) rotate(-20)" font-size="9.5" text-anchor="middle" fill="#222"><tspan x="0.8" y="0.40">SP110</tspan><tspan x="0" y="10.60">+SP140</tspan></text>
</g>
<line x1="379.1" y1="185.4" x2="675.7" y2="185.4" stroke="#000" stroke-width="1.5"/>
<text x="527.4" y="199.5" font-size="11" text-anchor="middle" fill="#000">siRNA Treatment</text>
<g>
<rect x="378.9" y="249.3" width="129.40000000000003" height="118.59999999999997" fill="#fff"/>
<line x1="378.9" y1="281.70" x2="508.3" y2="281.70" stroke="#efefef" stroke-width="0.7"/>
<line x1="378.9" y1="319.45" x2="508.3" y2="319.45" stroke="#efefef" stroke-width="0.7"/>
<line x1="378.9" y1="357.20" x2="508.3" y2="357.20" stroke="#efefef" stroke-width="0.7"/>
<line x1="378.9" y1="262.80" x2="508.3" y2="262.80" stroke="#e8e8e8" stroke-width="1.0"/>
<line x1="378.9" y1="300.60" x2="508.3" y2="300.60" stroke="#e8e8e8" stroke-width="1.0"/>
<line x1="378.9" y1="338.30" x2="508.3" y2="338.30" stroke="#e8e8e8" stroke-width="1.0"/>
<line x1="393.83" y1="249.3" x2="393.83" y2="367.9" stroke="#e8e8e8" stroke-width="1.0"/>
<line x1="418.72" y1="249.3" x2="418.72" y2="367.9" stroke="#e8e8e8" stroke-width="1.0"/>
<line x1="443.60" y1="249.3" x2="443.60" y2="367.9" stroke="#e8e8e8" stroke-width="1.0"/>
<line x1="468.48" y1="249.3" x2="468.48" y2="367.9" stroke="#e8e8e8" stroke-width="1.0"/>
<line x1="493.37" y1="249.3" x2="493.37" y2="367.9" stroke="#e8e8e8" stroke-width="1.0"/>
<line x1="393.83" y1="257.7" x2="393.83" y2="294.6" stroke="#F8766D" stroke-width="1.1"/>
<line x1="390.03" y1="257.7" x2="397.63" y2="257.7" stroke="#F8766D" stroke-width="1.1"/>
<line x1="390.03" y1="294.6" x2="397.63" y2="294.6" stroke="#F8766D" stroke-width="1.1"/>
<rect x="390.10" y="275.10" width="6.8" height="3.4" fill="#000"/>
<circle cx="396.8" cy="254.8" r="3.1" fill="#F8766D"/>
<circle cx="393.5" cy="259.7" r="3.1" fill="#F8766D"/>
<circle cx="398" cy="269.8" r="3.1" fill="#F8766D"/>
<circle cx="394.9" cy="283.6" r="3.1" fill="#F8766D"/>
<circle cx="394.5" cy="290.7" r="3.1" fill="#F8766D"/>
<circle cx="394.5" cy="300.5" r="3.1" fill="#F8766D"/>
<line x1="418.72" y1="297.2" x2="418.72" y2="316" stroke="#A3A500" stroke-width="1.1"/>
<line x1="414.92" y1="297.2" x2="422.52" y2="297.2" stroke="#A3A500" stroke-width="1.1"/>
<line x1="414.92" y1="316" x2="422.52" y2="316" stroke="#A3A500" stroke-width="1.1"/>
<rect x="416.30" y="305.60" width="6.8" height="3.4" fill="#000"/>
<circle cx="418.2" cy="290.2" r="3.1" fill="#A3A500"/>
<circle cx="418.8" cy="303" r="3.1" fill="#A3A500"/>
<circle cx="417.8" cy="309.2" r="3.1" fill="#A3A500"/>
<circle cx="419.7" cy="313.1" r="3.1" fill="#A3A500"/>
<circle cx="416.4" cy="317.4" r="3.1" fill="#A3A500"/>
<line x1="443.60" y1="286.9" x2="443.60" y2="310.7" stroke="#00BF7D" stroke-width="1.1"/>
<line x1="439.80" y1="286.9" x2="447.40" y2="286.9" stroke="#00BF7D" stroke-width="1.1"/>
<line x1="439.80" y1="310.7" x2="447.40" y2="310.7" stroke="#00BF7D" stroke-width="1.1"/>
<rect x="442.60" y="297.40" width="6.8" height="3.4" fill="#000"/>
<circle cx="439.7" cy="287.4" r="3.1" fill="#00BF7D"/>
<circle cx="445.6" cy="291.3" r="3.1" fill="#00BF7D"/>
<circle cx="443.4" cy="298.5" r="3.1" fill="#00BF7D"/>
<circle cx="448.9" cy="308.2" r="3.1" fill="#00BF7D"/>
<circle cx="444" cy="316" r="3.1" fill="#00BF7D"/>
<line x1="468.48" y1="325.7" x2="468.48" y2="357.3" stroke="#00B0F6" stroke-width="1.1"/>
<line x1="464.68" y1="325.7" x2="472.28" y2="325.7" stroke="#00B0F6" stroke-width="1.1"/>
<line x1="464.68" y1="357.3" x2="472.28" y2="357.3" stroke="#00B0F6" stroke-width="1.1"/>
<rect x="466.80" y="340.90" width="6.8" height="3.4" fill="#000"/>
<circle cx="465.4" cy="324.3" r="3.1" fill="#00B0F6"/>
<circle cx="469.3" cy="327.1" r="3.1" fill="#00B0F6"/>
<circle cx="466.3" cy="339.9" r="3.1" fill="#00B0F6"/>
<circle cx="466.3" cy="348" r="3.1" fill="#00B0F6"/>
<circle cx="468.3" cy="353.9" r="3.1" fill="#00B0F6"/>
<circle cx="467.7" cy="362.6" r="3.1" fill="#00B0F6"/>
<line x1="493.37" y1="307.3" x2="493.37" y2="337.4" stroke="#E76BF3" stroke-width="1.1"/>
<line x1="489.57" y1="307.3" x2="497.17" y2="307.3" stroke="#E76BF3" stroke-width="1.1"/>
<line x1="489.57" y1="337.4" x2="497.17" y2="337.4" stroke="#E76BF3" stroke-width="1.1"/>
<rect x="491.10" y="320.70" width="6.8" height="3.4" fill="#000"/>
<circle cx="496.8" cy="304.7" r="3.1" fill="#E76BF3"/>
<circle cx="492.6" cy="313.1" r="3.1" fill="#E76BF3"/>
<circle cx="493.5" cy="326.3" r="3.1" fill="#E76BF3"/>
<circle cx="494.5" cy="333.5" r="3.1" fill="#E76BF3"/>
<circle cx="494.5" cy="343.6" r="3.1" fill="#E76BF3"/>
<text x="418.87" y="285.0" font-size="12.5" letter-spacing="0.3" text-anchor="middle" fill="#000" stroke="#000" stroke-width="0.4">**</text>
<text x="443.75" y="283.1" font-size="12.5" letter-spacing="0.3" text-anchor="middle" fill="#000" stroke="#000" stroke-width="0.4">*</text>
<text x="468.63" y="321.9" font-size="12.5" letter-spacing="0.3" text-anchor="middle" fill="#000" stroke="#000" stroke-width="0.4">***</text>
<text x="493.52" y="301.1" font-size="12.5" letter-spacing="0.3" text-anchor="middle" fill="#000" stroke="#000" stroke-width="0.4">***</text>
<rect x="378.9" y="226.9" width="129.40000000000003" height="22.400000000000006" fill="#fff" stroke="#1a1a1a" stroke-width="1.4"/>
<text x="443.60" y="241.1" font-size="11" text-anchor="middle" fill="#000" word-spacing="1">IFIT2 gene exp.</text>
<rect x="378.9" y="249.3" width="129.40000000000003" height="118.59999999999997" fill="none" stroke="#1a1a1a" stroke-width="1.4"/>
<line x1="375.70" y1="262.80" x2="378.9" y2="262.80" stroke="#333" stroke-width="1.1"/>
<text x="373.60" y="266.30" font-size="10" text-anchor="end" fill="#222">-4</text>
<line x1="375.70" y1="300.60" x2="378.9" y2="300.60" stroke="#333" stroke-width="1.1"/>
<text x="373.60" y="304.10" font-size="10" text-anchor="end" fill="#222">-5</text>
<line x1="375.70" y1="338.30" x2="378.9" y2="338.30" stroke="#333" stroke-width="1.1"/>
<text x="373.60" y="341.80" font-size="10" text-anchor="end" fill="#222">-6</text>
<line x1="393.83" y1="367.9" x2="393.83" y2="371.50" stroke="#333" stroke-width="1.1"/>
<text transform="translate(393.83,384.40) rotate(-20)" font-size="8.7" text-anchor="middle" fill="#222" y="3.3">Control</text>
<line x1="418.72" y1="367.9" x2="418.72" y2="371.50" stroke="#333" stroke-width="1.1"/>
<text transform="translate(418.72,384.40) rotate(-20)" font-size="8.7" text-anchor="middle" fill="#222" y="3.3">SP110-1</text>
<line x1="443.60" y1="367.9" x2="443.60" y2="371.50" stroke="#333" stroke-width="1.1"/>
<text transform="translate(443.60,384.40) rotate(-20)" font-size="8.7" text-anchor="middle" fill="#222" y="3.3">SP110-2</text>
<line x1="468.48" y1="367.9" x2="468.48" y2="371.50" stroke="#333" stroke-width="1.1"/>
<text transform="translate(468.48,384.40) rotate(-20)" font-size="8.7" text-anchor="middle" fill="#222" y="3.3">SP140</text>
<line x1="493.37" y1="367.9" x2="493.37" y2="371.50" stroke="#333" stroke-width="1.1"/>
<text transform="translate(495.37,384.40) rotate(-20)" font-size="8.7" text-anchor="middle" fill="#222"><tspan x="0.8" y="0.37">SP110</tspan><tspan x="0" y="9.71">+SP140</tspan></text>
</g>
<g>
<rect x="545.6" y="249.3" width="130.39999999999998" height="118.59999999999997" fill="#fff"/>
<line x1="545.6" y1="265.65" x2="676.0" y2="265.65" stroke="#efefef" stroke-width="0.7"/>
<line x1="545.6" y1="294.30" x2="676.0" y2="294.30" stroke="#efefef" stroke-width="0.7"/>
<line x1="545.6" y1="322.90" x2="676.0" y2="322.90" stroke="#efefef" stroke-width="0.7"/>
<line x1="545.6" y1="351.45" x2="676.0" y2="351.45" stroke="#efefef" stroke-width="0.7"/>
<line x1="545.6" y1="251.30" x2="676.0" y2="251.30" stroke="#e8e8e8" stroke-width="1.0"/>
<line x1="545.6" y1="280.00" x2="676.0" y2="280.00" stroke="#e8e8e8" stroke-width="1.0"/>
<line x1="545.6" y1="308.60" x2="676.0" y2="308.60" stroke="#e8e8e8" stroke-width="1.0"/>
<line x1="545.6" y1="337.20" x2="676.0" y2="337.20" stroke="#e8e8e8" stroke-width="1.0"/>
<line x1="545.6" y1="365.70" x2="676.0" y2="365.70" stroke="#e8e8e8" stroke-width="1.0"/>
<line x1="560.65" y1="249.3" x2="560.65" y2="367.9" stroke="#e8e8e8" stroke-width="1.0"/>
<line x1="585.72" y1="249.3" x2="585.72" y2="367.9" stroke="#e8e8e8" stroke-width="1.0"/>
<line x1="610.80" y1="249.3" x2="610.80" y2="367.9" stroke="#e8e8e8" stroke-width="1.0"/>
<line x1="635.88" y1="249.3" x2="635.88" y2="367.9" stroke="#e8e8e8" stroke-width="1.0"/>
<line x1="660.95" y1="249.3" x2="660.95" y2="367.9" stroke="#e8e8e8" stroke-width="1.0"/>
<line x1="560.65" y1="263" x2="560.65" y2="299.5" stroke="#F8766D" stroke-width="1.1"/>
<line x1="556.85" y1="263" x2="564.45" y2="263" stroke="#F8766D" stroke-width="1.1"/>
<line x1="556.85" y1="299.5" x2="564.45" y2="299.5" stroke="#F8766D" stroke-width="1.1"/>
<rect x="558.70" y="279.90" width="6.8" height="3.4" fill="#000"/>
<circle cx="559" cy="254.8" r="3.1" fill="#F8766D"/>
<circle cx="559.6" cy="269.4" r="3.1" fill="#F8766D"/>
<circle cx="556.7" cy="282.4" r="3.1" fill="#F8766D"/>
<circle cx="564.4" cy="284.9" r="3.1" fill="#F8766D"/>
<circle cx="566.4" cy="285.9" r="3.1" fill="#F8766D"/>
<circle cx="562.1" cy="310.2" r="3.1" fill="#F8766D"/>
<line x1="585.72" y1="292" x2="585.72" y2="308" stroke="#A3A500" stroke-width="1.1"/>
<line x1="581.92" y1="292" x2="589.52" y2="292" stroke="#A3A500" stroke-width="1.1"/>
<line x1="581.92" y1="308" x2="589.52" y2="308" stroke="#A3A500" stroke-width="1.1"/>
<rect x="582.40" y="299.30" width="6.8" height="3.4" fill="#000"/>
<circle cx="582.9" cy="287.8" r="3.1" fill="#A3A500"/>
<circle cx="586.4" cy="295.2" r="3.1" fill="#A3A500"/>
<circle cx="583.8" cy="303.4" r="3.1" fill="#A3A500"/>
<circle cx="587.7" cy="306.3" r="3.1" fill="#A3A500"/>
<circle cx="585.5" cy="300" r="3.1" fill="#A3A500"/>
<line x1="610.80" y1="285.9" x2="610.80" y2="315" stroke="#00BF7D" stroke-width="1.1"/>
<line x1="607.00" y1="285.9" x2="614.60" y2="285.9" stroke="#00BF7D" stroke-width="1.1"/>
<line x1="607.00" y1="315" x2="614.60" y2="315" stroke="#00BF7D" stroke-width="1.1"/>
<rect x="605.70" y="299.30" width="6.8" height="3.4" fill="#000"/>
<circle cx="607.1" cy="284.3" r="3.1" fill="#00BF7D"/>
<circle cx="613.9" cy="289.8" r="3.1" fill="#00BF7D"/>
<circle cx="614.5" cy="294" r="3.1" fill="#00BF7D"/>
<circle cx="614.9" cy="301" r="3.1" fill="#00BF7D"/>
<circle cx="607.1" cy="310.7" r="3.1" fill="#00BF7D"/>
<circle cx="609.1" cy="323.8" r="3.1" fill="#00BF7D"/>
<line x1="635.88" y1="333.5" x2="635.88" y2="357.7" stroke="#00B0F6" stroke-width="1.1"/>
<line x1="632.08" y1="333.5" x2="639.68" y2="333.5" stroke="#00B0F6" stroke-width="1.1"/>
<line x1="632.08" y1="357.7" x2="639.68" y2="357.7" stroke="#00B0F6" stroke-width="1.1"/>
<rect x="632.50" y="345.90" width="6.8" height="3.4" fill="#000"/>
<circle cx="633.9" cy="334.4" r="3.1" fill="#00B0F6"/>
<circle cx="636.3" cy="340.3" r="3.1" fill="#00B0F6"/>
<circle cx="638.2" cy="344.1" r="3.1" fill="#00B0F6"/>
<circle cx="630.4" cy="356.8" r="3.1" fill="#00B0F6"/>
<circle cx="633.3" cy="362.6" r="3.1" fill="#00B0F6"/>
<line x1="660.95" y1="331" x2="660.95" y2="345" stroke="#E76BF3" stroke-width="1.1"/>
<line x1="657.15" y1="331" x2="664.75" y2="331" stroke="#E76BF3" stroke-width="1.1"/>
<line x1="657.15" y1="345" x2="664.75" y2="345" stroke="#E76BF3" stroke-width="1.1"/>
<rect x="659.50" y="336.60" width="6.8" height="3.4" fill="#000"/>
<circle cx="659.6" cy="329.6" r="3.1" fill="#E76BF3"/>
<circle cx="665" cy="332.9" r="3.1" fill="#E76BF3"/>
<circle cx="658.6" cy="337.3" r="3.1" fill="#E76BF3"/>
<circle cx="665" cy="343.2" r="3.1" fill="#E76BF3"/>
<circle cx="659.6" cy="345.1" r="3.1" fill="#E76BF3"/>
<text x="585.87" y="282.7" font-size="12.5" letter-spacing="0.3" text-anchor="middle" fill="#000" stroke="#000" stroke-width="0.4">*</text>
<text x="610.95" y="281.1" font-size="12.5" letter-spacing="0.3" text-anchor="middle" fill="#000" stroke="#000" stroke-width="0.4">*</text>
<text x="636.03" y="328.3" font-size="12.5" letter-spacing="0.3" text-anchor="middle" fill="#000" stroke="#000" stroke-width="0.4">***</text>
<text x="661.10" y="322.9" font-size="12.5" letter-spacing="0.3" text-anchor="middle" fill="#000" stroke="#000" stroke-width="0.4">***</text>
<rect x="545.6" y="226.9" width="130.39999999999998" height="22.400000000000006" fill="#fff" stroke="#1a1a1a" stroke-width="1.4"/>
<text x="610.80" y="241.1" font-size="11" text-anchor="middle" fill="#000" word-spacing="1">CXCL10 gene exp.</text>
<rect x="545.6" y="249.3" width="130.39999999999998" height="118.59999999999997" fill="none" stroke="#1a1a1a" stroke-width="1.4"/>
<line x1="542.40" y1="251.30" x2="545.6" y2="251.30" stroke="#333" stroke-width="1.1"/>
<text x="540.30" y="254.80" font-size="10" text-anchor="end" fill="#222">-6.5</text>
<line x1="542.40" y1="280.00" x2="545.6" y2="280.00" stroke="#333" stroke-width="1.1"/>
<text x="540.30" y="283.50" font-size="10" text-anchor="end" fill="#222">-7.5</text>
<line x1="542.40" y1="308.60" x2="545.6" y2="308.60" stroke="#333" stroke-width="1.1"/>
<text x="540.30" y="312.10" font-size="10" text-anchor="end" fill="#222">-8.5</text>
<line x1="542.40" y1="337.20" x2="545.6" y2="337.20" stroke="#333" stroke-width="1.1"/>
<text x="540.30" y="340.70" font-size="10" text-anchor="end" fill="#222">-9.5</text>
<line x1="542.40" y1="365.70" x2="545.6" y2="365.70" stroke="#333" stroke-width="1.1"/>
<text x="540.30" y="369.20" font-size="10" text-anchor="end" fill="#222">-10.5</text>
<line x1="560.65" y1="367.9" x2="560.65" y2="371.50" stroke="#333" stroke-width="1.1"/>
<text transform="translate(560.65,384.40) rotate(-20)" font-size="8.7" text-anchor="middle" fill="#222" y="3.3">Control</text>
<line x1="585.72" y1="367.9" x2="585.72" y2="371.50" stroke="#333" stroke-width="1.1"/>
<text transform="translate(585.72,384.40) rotate(-20)" font-size="8.7" text-anchor="middle" fill="#222" y="3.3">SP110-1</text>
<line x1="610.80" y1="367.9" x2="610.80" y2="371.50" stroke="#333" stroke-width="1.1"/>
<text transform="translate(610.80,384.40) rotate(-20)" font-size="8.7" text-anchor="middle" fill="#222" y="3.3">SP110-2</text>
<line x1="635.88" y1="367.9" x2="635.88" y2="371.50" stroke="#333" stroke-width="1.1"/>
<text transform="translate(635.88,384.40) rotate(-20)" font-size="8.7" text-anchor="middle" fill="#222" y="3.3">SP140</text>
<line x1="660.95" y1="367.9" x2="660.95" y2="371.50" stroke="#333" stroke-width="1.1"/>
<text transform="translate(662.95,384.40) rotate(-20)" font-size="8.7" text-anchor="middle" fill="#222"><tspan x="0.8" y="0.37">SP110</tspan><tspan x="0" y="9.71">+SP140</tspan></text>
</g>
<g>
<rect x="378.9" y="435.1" width="129.40000000000003" height="118.29999999999995" fill="#fff"/>
<line x1="378.9" y1="445.10" x2="508.3" y2="445.10" stroke="#efefef" stroke-width="0.7"/>
<line x1="378.9" y1="470.70" x2="508.3" y2="470.70" stroke="#efefef" stroke-width="0.7"/>
<line x1="378.9" y1="496.30" x2="508.3" y2="496.30" stroke="#efefef" stroke-width="0.7"/>
<line x1="378.9" y1="521.90" x2="508.3" y2="521.90" stroke="#efefef" stroke-width="0.7"/>
<line x1="378.9" y1="547.50" x2="508.3" y2="547.50" stroke="#efefef" stroke-width="0.7"/>
<line x1="378.9" y1="457.90" x2="508.3" y2="457.90" stroke="#e8e8e8" stroke-width="1.0"/>
<line x1="378.9" y1="483.50" x2="508.3" y2="483.50" stroke="#e8e8e8" stroke-width="1.0"/>
<line x1="378.9" y1="509.10" x2="508.3" y2="509.10" stroke="#e8e8e8" stroke-width="1.0"/>
<line x1="378.9" y1="534.70" x2="508.3" y2="534.70" stroke="#e8e8e8" stroke-width="1.0"/>
<line x1="393.83" y1="435.1" x2="393.83" y2="553.4" stroke="#e8e8e8" stroke-width="1.0"/>
<line x1="418.72" y1="435.1" x2="418.72" y2="553.4" stroke="#e8e8e8" stroke-width="1.0"/>
<line x1="443.60" y1="435.1" x2="443.60" y2="553.4" stroke="#e8e8e8" stroke-width="1.0"/>
<line x1="468.48" y1="435.1" x2="468.48" y2="553.4" stroke="#e8e8e8" stroke-width="1.0"/>
<line x1="493.37" y1="435.1" x2="493.37" y2="553.4" stroke="#e8e8e8" stroke-width="1.0"/>
<line x1="393.83" y1="442.4" x2="393.83" y2="462.6" stroke="#F8766D" stroke-width="1.1"/>
<line x1="390.03" y1="442.4" x2="397.63" y2="442.4" stroke="#F8766D" stroke-width="1.1"/>
<line x1="390.03" y1="462.6" x2="397.63" y2="462.6" stroke="#F8766D" stroke-width="1.1"/>
<rect x="390.10" y="451.20" width="6.8" height="3.4" fill="#000"/>
<circle cx="396.4" cy="440.4" r="3.1" fill="#F8766D"/>
<circle cx="398.4" cy="447" r="3.1" fill="#F8766D"/>
<circle cx="393.5" cy="456" r="3.1" fill="#F8766D"/>
<circle cx="398.4" cy="457.9" r="3.1" fill="#F8766D"/>
<circle cx="397.4" cy="468" r="3.1" fill="#F8766D"/>
<line x1="418.72" y1="456.4" x2="418.72" y2="495.6" stroke="#A3A500" stroke-width="1.1"/>
<line x1="414.92" y1="456.4" x2="422.52" y2="456.4" stroke="#A3A500" stroke-width="1.1"/>
<line x1="414.92" y1="495.6" x2="422.52" y2="495.6" stroke="#A3A500" stroke-width="1.1"/>
<rect x="415.40" y="474.50" width="6.8" height="3.4" fill="#000"/>
<circle cx="419.7" cy="459.3" r="3.1" fill="#A3A500"/>
<circle cx="422.3" cy="462.2" r="3.1" fill="#A3A500"/>
<circle cx="416.4" cy="465.7" r="3.1" fill="#A3A500"/>
<circle cx="419.2" cy="470" r="3.1" fill="#A3A500"/>
<circle cx="419.7" cy="490.3" r="3.1" fill="#A3A500"/>
<circle cx="414.5" cy="510.3" r="3.1" fill="#A3A500"/>
<line x1="443.60" y1="470.9" x2="443.60" y2="499" stroke="#00BF7D" stroke-width="1.1"/>
<line x1="439.80" y1="470.9" x2="447.40" y2="470.9" stroke="#00BF7D" stroke-width="1.1"/>
<line x1="439.80" y1="499" x2="447.40" y2="499" stroke="#00BF7D" stroke-width="1.1"/>
<rect x="440.60" y="485.30" width="6.8" height="3.4" fill="#000"/>
<circle cx="442.1" cy="470.9" r="3.1" fill="#00BF7D"/>
<circle cx="444" cy="481.6" r="3.1" fill="#00BF7D"/>
<circle cx="440.1" cy="498.1" r="3.1" fill="#00BF7D"/>
<circle cx="445" cy="499.1" r="3.1" fill="#00BF7D"/>
<circle cx="443" cy="498" r="3.1" fill="#00BF7D"/>
<line x1="468.48" y1="499" x2="468.48" y2="536.9" stroke="#00B0F6" stroke-width="1.1"/>
<line x1="464.68" y1="499" x2="472.28" y2="499" stroke="#00B0F6" stroke-width="1.1"/>
<line x1="464.68" y1="536.9" x2="472.28" y2="536.9" stroke="#00B0F6" stroke-width="1.1"/>
<rect x="464.90" y="517.20" width="6.8" height="3.4" fill="#000"/>
<circle cx="465.8" cy="498.1" r="3.1" fill="#00B0F6"/>
<circle cx="467.7" cy="503.9" r="3.1" fill="#00B0F6"/>
<circle cx="471.6" cy="509.4" r="3.1" fill="#00B0F6"/>
<circle cx="471.6" cy="520.4" r="3.1" fill="#00B0F6"/>
<circle cx="470.2" cy="532.1" r="3.1" fill="#00B0F6"/>
<circle cx="468.3" cy="547.6" r="3.1" fill="#00B0F6"/>
<line x1="493.37" y1="463.2" x2="493.37" y2="515" stroke="#E76BF3" stroke-width="1.1"/>
<line x1="489.57" y1="463.2" x2="497.17" y2="463.2" stroke="#E76BF3" stroke-width="1.1"/>
<line x1="489.57" y1="515" x2="497.17" y2="515" stroke="#E76BF3" stroke-width="1.1"/>
<rect x="491.10" y="488.30" width="6.8" height="3.4" fill="#000"/>
<circle cx="496.4" cy="463.7" r="3.1" fill="#E76BF3"/>
<circle cx="496" cy="471.5" r="3.1" fill="#E76BF3"/>
<circle cx="492.6" cy="476.2" r="3.1" fill="#E76BF3"/>
<circle cx="496.8" cy="483.5" r="3.1" fill="#E76BF3"/>
<circle cx="496" cy="516.2" r="3.1" fill="#E76BF3"/>
<circle cx="492.6" cy="528.2" r="3.1" fill="#E76BF3"/>
<text x="443.75" y="468.1" font-size="12.5" letter-spacing="0.3" text-anchor="middle" fill="#000" stroke="#000" stroke-width="0.4">*</text>
<text x="468.63" y="494.9" font-size="12.5" letter-spacing="0.3" text-anchor="middle" fill="#000" stroke="#000" stroke-width="0.4">***</text>
<text x="493.52" y="460.3" font-size="12.5" letter-spacing="0.3" text-anchor="middle" fill="#000" stroke="#000" stroke-width="0.4">**</text>
<rect x="378.9" y="413.0" width="129.40000000000003" height="22.100000000000023" fill="#fff" stroke="#1a1a1a" stroke-width="1.4"/>
<text x="443.60" y="427.1" font-size="11" text-anchor="middle" fill="#000" word-spacing="1">MX1 gene exp.</text>
<rect x="378.9" y="435.1" width="129.40000000000003" height="118.29999999999995" fill="none" stroke="#1a1a1a" stroke-width="1.4"/>
<line x1="375.70" y1="457.90" x2="378.9" y2="457.90" stroke="#333" stroke-width="1.1"/>
<text x="373.60" y="461.40" font-size="10" text-anchor="end" fill="#222">-5.5</text>
<line x1="375.70" y1="483.50" x2="378.9" y2="483.50" stroke="#333" stroke-width="1.1"/>
<text x="373.60" y="487.00" font-size="10" text-anchor="end" fill="#222">-6.0</text>
<line x1="375.70" y1="509.10" x2="378.9" y2="509.10" stroke="#333" stroke-width="1.1"/>
<text x="373.60" y="512.60" font-size="10" text-anchor="end" fill="#222">-6.5</text>
<line x1="375.70" y1="534.70" x2="378.9" y2="534.70" stroke="#333" stroke-width="1.1"/>
<text x="373.60" y="538.20" font-size="10" text-anchor="end" fill="#222">-7.0</text>
<line x1="393.83" y1="553.4" x2="393.83" y2="557.00" stroke="#333" stroke-width="1.1"/>
<text transform="translate(393.83,569.90) rotate(-20)" font-size="8.7" text-anchor="middle" fill="#222" y="3.3">Control</text>
<line x1="418.72" y1="553.4" x2="418.72" y2="557.00" stroke="#333" stroke-width="1.1"/>
<text transform="translate(418.72,569.90) rotate(-20)" font-size="8.7" text-anchor="middle" fill="#222" y="3.3">SP110-1</text>
<line x1="443.60" y1="553.4" x2="443.60" y2="557.00" stroke="#333" stroke-width="1.1"/>
<text transform="translate(443.60,569.90) rotate(-20)" font-size="8.7" text-anchor="middle" fill="#222" y="3.3">SP110-2</text>
<line x1="468.48" y1="553.4" x2="468.48" y2="557.00" stroke="#333" stroke-width="1.1"/>
<text transform="translate(468.48,569.90) rotate(-20)" font-size="8.7" text-anchor="middle" fill="#222" y="3.3">SP140</text>
<line x1="493.37" y1="553.4" x2="493.37" y2="557.00" stroke="#333" stroke-width="1.1"/>
<text transform="translate(495.37,569.90) rotate(-20)" font-size="8.7" text-anchor="middle" fill="#222"><tspan x="0.8" y="0.37">SP110</tspan><tspan x="0" y="9.71">+SP140</tspan></text>
<text transform="translate(348.5,497) rotate(-90)" font-size="11.5" text-anchor="middle" fill="#000">-dCT</text>
</g>
<g>
<rect x="545.6" y="435.1" width="130.39999999999998" height="118.29999999999995" fill="#fff"/>
<line x1="545.6" y1="444.10" x2="676.0" y2="444.10" stroke="#efefef" stroke-width="0.7"/>
<line x1="545.6" y1="473.90" x2="676.0" y2="473.90" stroke="#efefef" stroke-width="0.7"/>
<line x1="545.6" y1="503.75" x2="676.0" y2="503.75" stroke="#efefef" stroke-width="0.7"/>
<line x1="545.6" y1="533.60" x2="676.0" y2="533.60" stroke="#efefef" stroke-width="0.7"/>
<line x1="545.6" y1="459.00" x2="676.0" y2="459.00" stroke="#e8e8e8" stroke-width="1.0"/>
<line x1="545.6" y1="488.80" x2="676.0" y2="488.80" stroke="#e8e8e8" stroke-width="1.0"/>
<line x1="545.6" y1="518.70" x2="676.0" y2="518.70" stroke="#e8e8e8" stroke-width="1.0"/>
<line x1="545.6" y1="548.50" x2="676.0" y2="548.50" stroke="#e8e8e8" stroke-width="1.0"/>
<line x1="560.65" y1="435.1" x2="560.65" y2="553.4" stroke="#e8e8e8" stroke-width="1.0"/>
<line x1="585.72" y1="435.1" x2="585.72" y2="553.4" stroke="#e8e8e8" stroke-width="1.0"/>
<line x1="610.80" y1="435.1" x2="610.80" y2="553.4" stroke="#e8e8e8" stroke-width="1.0"/>
<line x1="635.88" y1="435.1" x2="635.88" y2="553.4" stroke="#e8e8e8" stroke-width="1.0"/>
<line x1="660.95" y1="435.1" x2="660.95" y2="553.4" stroke="#e8e8e8" stroke-width="1.0"/>
<line x1="560.65" y1="442" x2="560.65" y2="446" stroke="#F8766D" stroke-width="1.1"/>
<line x1="556.85" y1="442" x2="564.45" y2="442" stroke="#F8766D" stroke-width="1.1"/>
<line x1="556.85" y1="446" x2="564.45" y2="446" stroke="#F8766D" stroke-width="1.1"/>
<rect x="557.50" y="440.70" width="6.8" height="3.4" fill="#000"/>
<circle cx="555.7" cy="443.2" r="3.1" fill="#F8766D"/>
<circle cx="559.6" cy="442.4" r="3.1" fill="#F8766D"/>
<circle cx="564.4" cy="442.4" r="3.1" fill="#F8766D"/>
<circle cx="564.8" cy="450.1" r="3.1" fill="#F8766D"/>
<circle cx="560" cy="445" r="3.1" fill="#F8766D"/>
<line x1="585.72" y1="460" x2="585.72" y2="474" stroke="#A3A500" stroke-width="1.1"/>
<line x1="581.92" y1="460" x2="589.52" y2="460" stroke="#A3A500" stroke-width="1.1"/>
<line x1="581.92" y1="474" x2="589.52" y2="474" stroke="#A3A500" stroke-width="1.1"/>
<rect x="584.30" y="465.30" width="6.8" height="3.4" fill="#000"/>
<circle cx="583.8" cy="457.9" r="3.1" fill="#A3A500"/>
<circle cx="584.8" cy="461.2" r="3.1" fill="#A3A500"/>
<circle cx="580.9" cy="466.1" r="3.1" fill="#A3A500"/>
<circle cx="589.7" cy="470.3" r="3.1" fill="#A3A500"/>
<circle cx="587.7" cy="478.1" r="3.1" fill="#A3A500"/>
<circle cx="582" cy="466" r="3.1" fill="#A3A500"/>
<line x1="610.80" y1="460.2" x2="610.80" y2="476.2" stroke="#00BF7D" stroke-width="1.1"/>
<line x1="607.00" y1="460.2" x2="614.60" y2="460.2" stroke="#00BF7D" stroke-width="1.1"/>
<line x1="607.00" y1="476.2" x2="614.60" y2="476.2" stroke="#00BF7D" stroke-width="1.1"/>
<rect x="604.70" y="467.30" width="6.8" height="3.4" fill="#000"/>
<circle cx="607.5" cy="459.9" r="3.1" fill="#00BF7D"/>
<circle cx="615.9" cy="461.2" r="3.1" fill="#00BF7D"/>
<circle cx="611" cy="466.1" r="3.1" fill="#00BF7D"/>
<circle cx="612" cy="470.9" r="3.1" fill="#00BF7D"/>
<circle cx="614.9" cy="474.8" r="3.1" fill="#00BF7D"/>
<circle cx="611" cy="480.6" r="3.1" fill="#00BF7D"/>
<line x1="635.88" y1="471.5" x2="635.88" y2="522.4" stroke="#00B0F6" stroke-width="1.1"/>
<line x1="632.08" y1="471.5" x2="639.68" y2="471.5" stroke="#00B0F6" stroke-width="1.1"/>
<line x1="632.08" y1="522.4" x2="639.68" y2="522.4" stroke="#00B0F6" stroke-width="1.1"/>
<rect x="631.90" y="495.40" width="6.8" height="3.4" fill="#000"/>
<circle cx="635.3" cy="481.2" r="3.1" fill="#00B0F6"/>
<circle cx="633.3" cy="487.4" r="3.1" fill="#00B0F6"/>
<circle cx="639.2" cy="487" r="3.1" fill="#00B0F6"/>
<circle cx="636.3" cy="490.3" r="3.1" fill="#00B0F6"/>
<circle cx="636.7" cy="547.6" r="3.1" fill="#00B0F6"/>
<line x1="660.95" y1="466" x2="660.95" y2="480" stroke="#E76BF3" stroke-width="1.1"/>
<line x1="657.15" y1="466" x2="664.75" y2="466" stroke="#E76BF3" stroke-width="1.1"/>
<line x1="657.15" y1="480" x2="664.75" y2="480" stroke="#E76BF3" stroke-width="1.1"/>
<rect x="659.10" y="473.10" width="6.8" height="3.4" fill="#000"/>
<circle cx="657.2" cy="464.1" r="3.1" fill="#E76BF3"/>
<circle cx="661.5" cy="466.1" r="3.1" fill="#E76BF3"/>
<circle cx="656.7" cy="472.9" r="3.1" fill="#E76BF3"/>
<circle cx="660.5" cy="478.7" r="3.1" fill="#E76BF3"/>
<circle cx="659.6" cy="483.5" r="3.1" fill="#E76BF3"/>
<text x="585.87" y="454.9" font-size="12.5" letter-spacing="0.3" text-anchor="middle" fill="#000" stroke="#000" stroke-width="0.4">*</text>
<text x="610.95" y="456.8" font-size="12.5" letter-spacing="0.3" text-anchor="middle" fill="#000" stroke="#000" stroke-width="0.4">**</text>
<text x="636.03" y="472.4" font-size="12.5" letter-spacing="0.3" text-anchor="middle" fill="#000" stroke="#000" stroke-width="0.4">***</text>
<text x="661.10" y="460.3" font-size="12.5" letter-spacing="0.3" text-anchor="middle" fill="#000" stroke="#000" stroke-width="0.4">**</text>
<rect x="545.6" y="413.0" width="130.39999999999998" height="22.100000000000023" fill="#fff" stroke="#1a1a1a" stroke-width="1.4"/>
<text x="610.80" y="427.1" font-size="11" text-anchor="middle" fill="#000" word-spacing="1">IFIT3 gene exp.</text>
<rect x="545.6" y="435.1" width="130.39999999999998" height="118.29999999999995" fill="none" stroke="#1a1a1a" stroke-width="1.4"/>
<line x1="542.40" y1="459.00" x2="545.6" y2="459.00" stroke="#333" stroke-width="1.1"/>
<text x="540.30" y="462.50" font-size="10" text-anchor="end" fill="#222">-3</text>
<line x1="542.40" y1="488.80" x2="545.6" y2="488.80" stroke="#333" stroke-width="1.1"/>
<text x="540.30" y="492.30" font-size="10" text-anchor="end" fill="#222">-4</text>
<line x1="542.40" y1="518.70" x2="545.6" y2="518.70" stroke="#333" stroke-width="1.1"/>
<text x="540.30" y="522.20" font-size="10" text-anchor="end" fill="#222">-5</text>
<line x1="542.40" y1="548.50" x2="545.6" y2="548.50" stroke="#333" stroke-width="1.1"/>
<text x="540.30" y="552.00" font-size="10" text-anchor="end" fill="#222">-6</text>
<line x1="560.65" y1="553.4" x2="560.65" y2="557.00" stroke="#333" stroke-width="1.1"/>
<text transform="translate(560.65,569.90) rotate(-20)" font-size="8.7" text-anchor="middle" fill="#222" y="3.3">Control</text>
<line x1="585.72" y1="553.4" x2="585.72" y2="557.00" stroke="#333" stroke-width="1.1"/>
<text transform="translate(585.72,569.90) rotate(-20)" font-size="8.7" text-anchor="middle" fill="#222" y="3.3">SP110-1</text>
<line x1="610.80" y1="553.4" x2="610.80" y2="557.00" stroke="#333" stroke-width="1.1"/>
<text transform="translate(610.80,569.90) rotate(-20)" font-size="8.7" text-anchor="middle" fill="#222" y="3.3">SP110-2</text>
<line x1="635.88" y1="553.4" x2="635.88" y2="557.00" stroke="#333" stroke-width="1.1"/>
<text transform="translate(635.88,569.90) rotate(-20)" font-size="8.7" text-anchor="middle" fill="#222" y="3.3">SP140</text>
<line x1="660.95" y1="553.4" x2="660.95" y2="557.00" stroke="#333" stroke-width="1.1"/>
<text transform="translate(662.95,569.90) rotate(-20)" font-size="8.7" text-anchor="middle" fill="#222"><tspan x="0.8" y="0.37">SP110</tspan><tspan x="0" y="9.71">+SP140</tspan></text>
</g>
<g>
<rect x="378.9" y="620.3" width="129.40000000000003" height="118.5" fill="#fff"/>
<line x1="378.9" y1="641.05" x2="508.3" y2="641.05" stroke="#efefef" stroke-width="0.7"/>
<line x1="378.9" y1="676.20" x2="508.3" y2="676.20" stroke="#efefef" stroke-width="0.7"/>
<line x1="378.9" y1="711.35" x2="508.3" y2="711.35" stroke="#efefef" stroke-width="0.7"/>
<line x1="378.9" y1="623.50" x2="508.3" y2="623.50" stroke="#e8e8e8" stroke-width="1.0"/>
<line x1="378.9" y1="658.60" x2="508.3" y2="658.60" stroke="#e8e8e8" stroke-width="1.0"/>
<line x1="378.9" y1="693.80" x2="508.3" y2="693.80" stroke="#e8e8e8" stroke-width="1.0"/>
<line x1="378.9" y1="728.90" x2="508.3" y2="728.90" stroke="#e8e8e8" stroke-width="1.0"/>
<line x1="393.83" y1="620.3" x2="393.83" y2="738.8" stroke="#e8e8e8" stroke-width="1.0"/>
<line x1="418.72" y1="620.3" x2="418.72" y2="738.8" stroke="#e8e8e8" stroke-width="1.0"/>
<line x1="443.60" y1="620.3" x2="443.60" y2="738.8" stroke="#e8e8e8" stroke-width="1.0"/>
<line x1="468.48" y1="620.3" x2="468.48" y2="738.8" stroke="#e8e8e8" stroke-width="1.0"/>
<line x1="493.37" y1="620.3" x2="493.37" y2="738.8" stroke="#e8e8e8" stroke-width="1.0"/>
<line x1="393.83" y1="634" x2="393.83" y2="670.1" stroke="#F8766D" stroke-width="1.1"/>
<line x1="390.03" y1="634" x2="397.63" y2="634" stroke="#F8766D" stroke-width="1.1"/>
<line x1="390.03" y1="670.1" x2="397.63" y2="670.1" stroke="#F8766D" stroke-width="1.1"/>
<rect x="392.10" y="649.40" width="6.8" height="3.4" fill="#000"/>
<circle cx="390" cy="625.8" r="3.1" fill="#F8766D"/>
<circle cx="393.5" cy="640.4" r="3.1" fill="#F8766D"/>
<circle cx="391.2" cy="650.1" r="3.1" fill="#F8766D"/>
<circle cx="396.4" cy="655" r="3.1" fill="#F8766D"/>
<circle cx="397.4" cy="665" r="3.1" fill="#F8766D"/>
<circle cx="394.5" cy="677.3" r="3.1" fill="#F8766D"/>
<line x1="418.72" y1="666.2" x2="418.72" y2="692.2" stroke="#A3A500" stroke-width="1.1"/>
<line x1="414.92" y1="666.2" x2="422.52" y2="666.2" stroke="#A3A500" stroke-width="1.1"/>
<line x1="414.92" y1="692.2" x2="422.52" y2="692.2" stroke="#A3A500" stroke-width="1.1"/>
<rect x="418.30" y="676.60" width="6.8" height="3.4" fill="#000"/>
<circle cx="421.7" cy="659.4" r="3.1" fill="#A3A500"/>
<circle cx="419.7" cy="669.5" r="3.1" fill="#A3A500"/>
<circle cx="418.8" cy="679.2" r="3.1" fill="#A3A500"/>
<circle cx="422.3" cy="681.7" r="3.1" fill="#A3A500"/>
<circle cx="413.9" cy="689.5" r="3.1" fill="#A3A500"/>
<circle cx="417.8" cy="694.8" r="3.1" fill="#A3A500"/>
<line x1="443.60" y1="667.6" x2="443.60" y2="696.3" stroke="#00BF7D" stroke-width="1.1"/>
<line x1="439.80" y1="667.6" x2="447.40" y2="667.6" stroke="#00BF7D" stroke-width="1.1"/>
<line x1="439.80" y1="696.3" x2="447.40" y2="696.3" stroke="#00BF7D" stroke-width="1.1"/>
<rect x="441.60" y="680.80" width="6.8" height="3.4" fill="#000"/>
<circle cx="446" cy="658.4" r="3.1" fill="#00BF7D"/>
<circle cx="447.5" cy="674.4" r="3.1" fill="#00BF7D"/>
<circle cx="442.1" cy="679.8" r="3.1" fill="#00BF7D"/>
<circle cx="446.3" cy="690.9" r="3.1" fill="#00BF7D"/>
<circle cx="447.5" cy="698.3" r="3.1" fill="#00BF7D"/>
<line x1="468.48" y1="696.3" x2="468.48" y2="726.8" stroke="#00B0F6" stroke-width="1.1"/>
<line x1="464.68" y1="696.3" x2="472.28" y2="696.3" stroke="#00B0F6" stroke-width="1.1"/>
<line x1="464.68" y1="726.8" x2="472.28" y2="726.8" stroke="#00B0F6" stroke-width="1.1"/>
<rect x="465.90" y="710.00" width="6.8" height="3.4" fill="#000"/>
<circle cx="466.3" cy="689" r="3.1" fill="#00B0F6"/>
<circle cx="465.8" cy="705" r="3.1" fill="#00B0F6"/>
<circle cx="469.7" cy="717.1" r="3.1" fill="#00B0F6"/>
<circle cx="474.1" cy="720" r="3.1" fill="#00B0F6"/>
<circle cx="465" cy="733.6" r="3.1" fill="#00B0F6"/>
<line x1="493.37" y1="670" x2="493.37" y2="700" stroke="#E76BF3" stroke-width="1.1"/>
<line x1="489.57" y1="670" x2="497.17" y2="670" stroke="#E76BF3" stroke-width="1.1"/>
<line x1="489.57" y1="700" x2="497.17" y2="700" stroke="#E76BF3" stroke-width="1.1"/>
<rect x="491.10" y="682.00" width="6.8" height="3.4" fill="#000"/>
<circle cx="490.2" cy="669.5" r="3.1" fill="#E76BF3"/>
<circle cx="496.1" cy="670.1" r="3.1" fill="#E76BF3"/>
<circle cx="492.5" cy="672.5" r="3.1" fill="#E76BF3"/>
<circle cx="495" cy="676" r="3.1" fill="#E76BF3"/>
<circle cx="498.4" cy="687.6" r="3.1" fill="#E76BF3"/>
<circle cx="494.1" cy="691.5" r="3.1" fill="#E76BF3"/>
<circle cx="495.5" cy="711.3" r="3.1" fill="#E76BF3"/>
<text x="418.87" y="654.1" font-size="12.5" letter-spacing="0.3" text-anchor="middle" fill="#000" stroke="#000" stroke-width="0.4">*</text>
<text x="443.75" y="655.0" font-size="12.5" letter-spacing="0.3" text-anchor="middle" fill="#000" stroke="#000" stroke-width="0.4">**</text>
<text x="468.63" y="684.5" font-size="12.5" letter-spacing="0.3" text-anchor="middle" fill="#000" stroke="#000" stroke-width="0.4">***</text>
<text x="493.52" y="667.1" font-size="12.5" letter-spacing="0.3" text-anchor="middle" fill="#000" stroke="#000" stroke-width="0.4">**</text>
<rect x="378.9" y="598.2" width="129.40000000000003" height="22.09999999999991" fill="#fff" stroke="#1a1a1a" stroke-width="1.4"/>
<text x="443.60" y="612.2" font-size="11" text-anchor="middle" fill="#000" word-spacing="1">RSAD2 gene exp.</text>
<rect x="378.9" y="620.3" width="129.40000000000003" height="118.5" fill="none" stroke="#1a1a1a" stroke-width="1.4"/>
<line x1="375.70" y1="623.50" x2="378.9" y2="623.50" stroke="#333" stroke-width="1.1"/>
<text x="373.60" y="627.00" font-size="10" text-anchor="end" fill="#222">-3</text>
<line x1="375.70" y1="658.60" x2="378.9" y2="658.60" stroke="#333" stroke-width="1.1"/>
<text x="373.60" y="662.10" font-size="10" text-anchor="end" fill="#222">-4</text>
<line x1="375.70" y1="693.80" x2="378.9" y2="693.80" stroke="#333" stroke-width="1.1"/>
<text x="373.60" y="697.30" font-size="10" text-anchor="end" fill="#222">-5</text>
<line x1="375.70" y1="728.90" x2="378.9" y2="728.90" stroke="#333" stroke-width="1.1"/>
<text x="373.60" y="732.40" font-size="10" text-anchor="end" fill="#222">-6</text>
<line x1="393.83" y1="738.8" x2="393.83" y2="742.40" stroke="#333" stroke-width="1.1"/>
<text transform="translate(393.83,755.30) rotate(-20)" font-size="8.7" text-anchor="middle" fill="#222" y="3.3">Control</text>
<line x1="418.72" y1="738.8" x2="418.72" y2="742.40" stroke="#333" stroke-width="1.1"/>
<text transform="translate(418.72,755.30) rotate(-20)" font-size="8.7" text-anchor="middle" fill="#222" y="3.3">SP110-1</text>
<line x1="443.60" y1="738.8" x2="443.60" y2="742.40" stroke="#333" stroke-width="1.1"/>
<text transform="translate(443.60,755.30) rotate(-20)" font-size="8.7" text-anchor="middle" fill="#222" y="3.3">SP110-2</text>
<line x1="468.48" y1="738.8" x2="468.48" y2="742.40" stroke="#333" stroke-width="1.1"/>
<text transform="translate(468.48,755.30) rotate(-20)" font-size="8.7" text-anchor="middle" fill="#222" y="3.3">SP140</text>
<line x1="493.37" y1="738.8" x2="493.37" y2="742.40" stroke="#333" stroke-width="1.1"/>
<text transform="translate(495.37,755.30) rotate(-20)" font-size="8.7" text-anchor="middle" fill="#222"><tspan x="0.8" y="0.37">SP110</tspan><tspan x="0" y="9.71">+SP140</tspan></text>
</g>
<g>
<rect x="545.6" y="620.3" width="130.39999999999998" height="118.5" fill="#fff"/>
<line x1="545.6" y1="620.40" x2="676.0" y2="620.40" stroke="#efefef" stroke-width="0.7"/>
<line x1="545.6" y1="642.80" x2="676.0" y2="642.80" stroke="#efefef" stroke-width="0.7"/>
<line x1="545.6" y1="665.20" x2="676.0" y2="665.20" stroke="#efefef" stroke-width="0.7"/>
<line x1="545.6" y1="687.55" x2="676.0" y2="687.55" stroke="#efefef" stroke-width="0.7"/>
<line x1="545.6" y1="709.85" x2="676.0" y2="709.85" stroke="#efefef" stroke-width="0.7"/>
<line x1="545.6" y1="732.20" x2="676.0" y2="732.20" stroke="#efefef" stroke-width="0.7"/>
<line x1="545.6" y1="631.60" x2="676.0" y2="631.60" stroke="#e8e8e8" stroke-width="1.0"/>
<line x1="545.6" y1="654.00" x2="676.0" y2="654.00" stroke="#e8e8e8" stroke-width="1.0"/>
<line x1="545.6" y1="676.40" x2="676.0" y2="676.40" stroke="#e8e8e8" stroke-width="1.0"/>
<line x1="545.6" y1="698.70" x2="676.0" y2="698.70" stroke="#e8e8e8" stroke-width="1.0"/>
<line x1="545.6" y1="721.00" x2="676.0" y2="721.00" stroke="#e8e8e8" stroke-width="1.0"/>
<line x1="560.65" y1="620.3" x2="560.65" y2="738.8" stroke="#e8e8e8" stroke-width="1.0"/>
<line x1="585.72" y1="620.3" x2="585.72" y2="738.8" stroke="#e8e8e8" stroke-width="1.0"/>
<line x1="610.80" y1="620.3" x2="610.80" y2="738.8" stroke="#e8e8e8" stroke-width="1.0"/>
<line x1="635.88" y1="620.3" x2="635.88" y2="738.8" stroke="#e8e8e8" stroke-width="1.0"/>
<line x1="660.95" y1="620.3" x2="660.95" y2="738.8" stroke="#e8e8e8" stroke-width="1.0"/>
<line x1="560.65" y1="634.6" x2="560.65" y2="672.4" stroke="#F8766D" stroke-width="1.1"/>
<line x1="556.85" y1="634.6" x2="564.45" y2="634.6" stroke="#F8766D" stroke-width="1.1"/>
<line x1="556.85" y1="672.4" x2="564.45" y2="672.4" stroke="#F8766D" stroke-width="1.1"/>
<rect x="557.10" y="652.90" width="6.8" height="3.4" fill="#000"/>
<circle cx="563.4" cy="625.8" r="3.1" fill="#F8766D"/>
<circle cx="560.5" cy="639.4" r="3.1" fill="#F8766D"/>
<circle cx="557.6" cy="645.2" r="3.1" fill="#F8766D"/>
<circle cx="558.6" cy="669.5" r="3.1" fill="#F8766D"/>
<circle cx="562.1" cy="670.9" r="3.1" fill="#F8766D"/>
<circle cx="557.6" cy="672.4" r="3.1" fill="#F8766D"/>
<line x1="585.72" y1="663.7" x2="585.72" y2="692.8" stroke="#A3A500" stroke-width="1.1"/>
<line x1="581.92" y1="663.7" x2="589.52" y2="663.7" stroke="#A3A500" stroke-width="1.1"/>
<line x1="581.92" y1="692.8" x2="589.52" y2="692.8" stroke="#A3A500" stroke-width="1.1"/>
<rect x="580.40" y="676.60" width="6.8" height="3.4" fill="#000"/>
<circle cx="586.4" cy="659.4" r="3.1" fill="#A3A500"/>
<circle cx="588.7" cy="667.6" r="3.1" fill="#A3A500"/>
<circle cx="587.7" cy="676.3" r="3.1" fill="#A3A500"/>
<circle cx="589.7" cy="680.6" r="3.1" fill="#A3A500"/>
<circle cx="591.6" cy="683.1" r="3.1" fill="#A3A500"/>
<circle cx="590.6" cy="703.5" r="3.1" fill="#A3A500"/>
<line x1="610.80" y1="654.6" x2="610.80" y2="682.1" stroke="#00BF7D" stroke-width="1.1"/>
<line x1="607.00" y1="654.6" x2="614.60" y2="654.6" stroke="#00BF7D" stroke-width="1.1"/>
<line x1="607.00" y1="682.1" x2="614.60" y2="682.1" stroke="#00BF7D" stroke-width="1.1"/>
<rect x="607.60" y="666.50" width="6.8" height="3.4" fill="#000"/>
<circle cx="613" cy="653" r="3.1" fill="#00BF7D"/>
<circle cx="612" cy="656.5" r="3.1" fill="#00BF7D"/>
<circle cx="607.1" cy="662.7" r="3.1" fill="#00BF7D"/>
<circle cx="612" cy="671.5" r="3.1" fill="#00BF7D"/>
<circle cx="610" cy="677.3" r="3.1" fill="#00BF7D"/>
<circle cx="609.1" cy="691.8" r="3.1" fill="#00BF7D"/>
<line x1="635.88" y1="699.2" x2="635.88" y2="734.6" stroke="#00B0F6" stroke-width="1.1"/>
<line x1="632.08" y1="699.2" x2="639.68" y2="699.2" stroke="#00B0F6" stroke-width="1.1"/>
<line x1="632.08" y1="734.6" x2="639.68" y2="734.6" stroke="#00B0F6" stroke-width="1.1"/>
<rect x="629.90" y="714.40" width="6.8" height="3.4" fill="#000"/>
<circle cx="639.2" cy="691.5" r="3.1" fill="#00B0F6"/>
<circle cx="640.1" cy="699.6" r="3.1" fill="#00B0F6"/>
<circle cx="637.2" cy="717.1" r="3.1" fill="#00B0F6"/>
<circle cx="639.2" cy="725.8" r="3.1" fill="#00B0F6"/>
<circle cx="638.2" cy="729.7" r="3.1" fill="#00B0F6"/>
<circle cx="635.3" cy="733.6" r="3.1" fill="#00B0F6"/>
<line x1="660.95" y1="665.6" x2="660.95" y2="705.4" stroke="#E76BF3" stroke-width="1.1"/>
<line x1="657.15" y1="665.6" x2="664.75" y2="665.6" stroke="#E76BF3" stroke-width="1.1"/>
<line x1="657.15" y1="705.4" x2="664.75" y2="705.4" stroke="#E76BF3" stroke-width="1.1"/>
<rect x="660.00" y="684.30" width="6.8" height="3.4" fill="#000"/>
<circle cx="656.7" cy="666.6" r="3.1" fill="#E76BF3"/>
<circle cx="661.5" cy="665" r="3.1" fill="#E76BF3"/>
<circle cx="661.5" cy="680.2" r="3.1" fill="#E76BF3"/>
<circle cx="659.6" cy="685.6" r="3.1" fill="#E76BF3"/>
<circle cx="660" cy="703.9" r="3.1" fill="#E76BF3"/>
<circle cx="662.5" cy="714.8" r="3.1" fill="#E76BF3"/>
<text x="636.03" y="684.5" font-size="12.5" letter-spacing="0.3" text-anchor="middle" fill="#000" stroke="#000" stroke-width="0.4">***</text>
<text x="661.10" y="660.5" font-size="12.5" letter-spacing="0.3" text-anchor="middle" fill="#000" stroke="#000" stroke-width="0.4">*</text>
<rect x="545.6" y="598.2" width="130.39999999999998" height="22.09999999999991" fill="#fff" stroke="#1a1a1a" stroke-width="1.4"/>
<text x="610.80" y="612.2" font-size="11" text-anchor="middle" fill="#000" word-spacing="1">CMPK2 gene exp.</text>
<rect x="545.6" y="620.3" width="130.39999999999998" height="118.5" fill="none" stroke="#1a1a1a" stroke-width="1.4"/>
<line x1="542.40" y1="631.60" x2="545.6" y2="631.60" stroke="#333" stroke-width="1.1"/>
<text x="540.30" y="635.10" font-size="10" text-anchor="end" fill="#222">-9.0</text>
<line x1="542.40" y1="654.00" x2="545.6" y2="654.00" stroke="#333" stroke-width="1.1"/>
<text x="540.30" y="657.50" font-size="10" text-anchor="end" fill="#222">-9.5</text>
<line x1="542.40" y1="676.40" x2="545.6" y2="676.40" stroke="#333" stroke-width="1.1"/>
<text x="540.30" y="679.90" font-size="10" text-anchor="end" fill="#222">-10.0</text>
<line x1="542.40" y1="698.70" x2="545.6" y2="698.70" stroke="#333" stroke-width="1.1"/>
<text x="540.30" y="702.20" font-size="10" text-anchor="end" fill="#222">-10.5</text>
<line x1="542.40" y1="721.00" x2="545.6" y2="721.00" stroke="#333" stroke-width="1.1"/>
<text x="540.30" y="724.50" font-size="10" text-anchor="end" fill="#222">-11.0</text>
<line x1="560.65" y1="738.8" x2="560.65" y2="742.40" stroke="#333" stroke-width="1.1"/>
<text transform="translate(560.65,755.30) rotate(-20)" font-size="8.7" text-anchor="middle" fill="#222" y="3.3">Control</text>
<line x1="585.72" y1="738.8" x2="585.72" y2="742.40" stroke="#333" stroke-width="1.1"/>
<text transform="translate(585.72,755.30) rotate(-20)" font-size="8.7" text-anchor="middle" fill="#222" y="3.3">SP110-1</text>
<line x1="610.80" y1="738.8" x2="610.80" y2="742.40" stroke="#333" stroke-width="1.1"/>
<text transform="translate(610.80,755.30) rotate(-20)" font-size="8.7" text-anchor="middle" fill="#222" y="3.3">SP110-2</text>
<line x1="635.88" y1="738.8" x2="635.88" y2="742.40" stroke="#333" stroke-width="1.1"/>
<text transform="translate(635.88,755.30) rotate(-20)" font-size="8.7" text-anchor="middle" fill="#222" y="3.3">SP140</text>
<line x1="660.95" y1="738.8" x2="660.95" y2="742.40" stroke="#333" stroke-width="1.1"/>
<text transform="translate(662.95,755.30) rotate(-20)" font-size="8.7" text-anchor="middle" fill="#222"><tspan x="0.8" y="0.37">SP110</tspan><tspan x="0" y="9.71">+SP140</tspan></text>
</g>
<line x1="379.1" y1="774" x2="675.7" y2="774" stroke="#000" stroke-width="1.5"/>
<text x="527.2" y="789.0" font-size="11" text-anchor="middle" fill="#000">siRNA Treatment</text>
</svg></body></html>
